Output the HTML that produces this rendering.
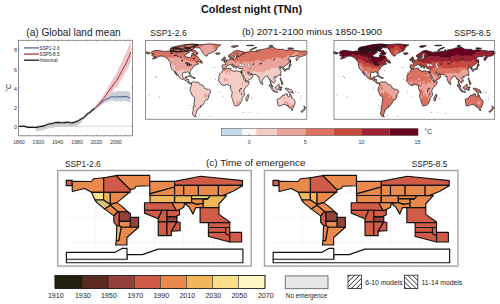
<!DOCTYPE html><html><head><meta charset="utf-8"><style>html,body{margin:0;padding:0;background:#fff;width:500px;height:304px;overflow:hidden}svg{display:block}text{font-family:"Liberation Sans",sans-serif}</style></head><body>
<svg width="500" height="304" viewBox="0 0 500 304">
<text x="251.5" y="13.4" font-size="10.9" font-weight="bold" text-anchor="middle" fill="#111">Coldest night (TNn)</text>
<text x="73.5" y="35.5" font-size="10.1" text-anchor="middle" fill="#222">(a) Global land mean</text>
<line x1="18.5" y1="126.3" x2="132.5" y2="126.3" stroke="#c8c8c8" stroke-width="0.7"/>
<polygon points="18.5,125.55 19.45,125.65 20.4,125.7 21.35,125.45 22.3,125.53 23.25,125.32 24.2,125.45 25.12,126.12 26.05,125.74 26.97,125.97 27.9,126.84 28.84,126.37 29.77,126.52 30.71,126.45 31.65,126.6 32.59,126.35 33.52,126.43 34.46,126.75 35.4,126.4 36.32,126.41 37.25,126.42 38.17,125.01 39.1,125.47 40.02,124.96 40.95,125.02 41.88,124.64 42.8,124.89 43.8,124.02 44.8,124 45.8,123.57 46.8,123.18 47.8,122.89 48.83,122.17 49.87,122.61 50.9,121.92 51.93,122.27 52.97,122.1 54,121.56 54.92,120.99 55.85,120.91 56.78,121.45 57.7,120.53 58.7,120.99 59.7,120.81 60.7,121.17 61.7,121.14 62.7,121.24 63.68,121.22 64.66,121.17 65.64,120.83 66.62,120.75 67.6,120.4 68.52,120.93 69.45,121.3 70.38,121.07 71.3,121.29 72.3,121.35 73.3,121.23 74.3,120.66 75.3,120.13 76.3,120.31 77.22,119.67 78.15,119.47 79.08,118.62 80,118.37 81.2,117.38 82.4,117.46 83.6,116.81 84.54,115.09 85.48,114.6 86.42,113.56 87.36,112.61 88.3,111.96 89.35,111.57 90.4,110.54 91.45,109.54 92.5,108.87 93.55,107.76 94.6,107.31 94.6,110.41 93.55,110.87 92.5,112.02 91.45,112.49 90.4,113.86 89.35,114.56 88.3,114.73 87.36,115.8 86.42,116.76 85.48,117.73 84.54,118.26 83.6,119.4 82.4,120.46 81.2,122.88 80,123.79 79.08,124.52 78.15,125.29 77.22,125.18 76.3,125.9 75.3,126.09 74.3,126.49 73.3,126.82 72.3,127.21 71.3,126.83 70.38,126.74 69.45,126.7 68.52,126.35 67.6,126.33 66.62,126.23 65.64,126.65 64.66,126.56 63.68,126.67 62.7,127.15 61.7,126.7 60.7,126.69 59.7,126.76 58.7,126.9 57.7,126.61 56.78,126.89 55.85,126.97 54.92,127.13 54,127.19 52.97,127.69 51.93,127.83 50.9,127.85 49.87,128.04 48.83,127.92 47.8,128.59 46.8,128.98 45.8,129.28 44.8,129.57 43.8,129.85 42.8,130.56 41.88,130.3 40.95,130.62 40.02,130.65 39.1,130.98 38.17,130.77 37.25,131.23 36.32,131.59 35.4,128.27 34.46,128.33 33.52,128.44 32.59,127.81 31.65,128.11 30.71,128.23 29.77,128.15 28.84,128.28 27.9,128.46 26.97,127.61 26.05,127.68 25.12,127.83 24.2,126.78 23.25,126.88 22.3,127.17 21.35,127.42 20.4,127.11 19.45,127.09 18.5,126.9" fill="#cdcdcd"/>
<polygon points="94.6,107.1 95.57,106.11 96.55,105.14 97.53,104.26 98.5,102.61 99.47,102.01 100.45,101.01 101.43,99.54 102.4,99.08 103.6,97.71 104.8,96.27 106,95.45 107.05,95.44 108.1,94.16 109.15,94.1 110.2,92.69 111.33,92.15 112.47,92.11 113.6,91.89 114.51,91.66 115.43,91.39 116.34,91.23 117.26,91.26 118.17,91.18 119.09,90.75 120,90.73 121,91.44 122,91.34 123,91.01 124,90.93 125,90.75 126,90.64 127,90.95 128.13,91.58 129.27,91.73 130.4,92.52 130.4,102.9 129.27,101.89 128.13,101.83 127,101.39 126,100.82 125,100.87 124,101.27 123,101.09 122,101.35 121,101.61 120,101.27 119.09,100.86 118.17,101.43 117.26,101.19 116.34,101.69 115.43,101.24 114.51,101.2 113.6,101 112.47,100.61 111.33,100.71 110.2,100.53 109.15,101.2 108.1,101.49 107.05,102.2 106,102.03 104.8,102.69 103.6,103.52 102.4,104.34 101.43,104.74 100.45,105.8 99.47,106.41 98.5,106.7 97.53,108.05 96.55,108.24 95.57,108.91 94.6,110.07" fill="#c8cfd9"/>
<polygon points="94.6,106.95 95.9,105.46 97.2,103.83 98.5,101.3 99.8,99.88 101.1,98.52 102.4,96.58 103.52,95.06 104.64,93.53 105.76,91.08 106.88,89.36 108,87.11 109.12,85.62 110.25,83.28 111.38,81.59 112.5,79.55 113.62,76.98 114.75,76.02 115.88,73.42 117,72.72 118.1,69.91 119.2,66.9 120.3,65.46 121.4,62.95 122.5,60.93 123.67,57.51 124.83,54.78 126,53.44 127,50.19 128,48.13 129,45.64 130.8,40.48 130.8,60.94 129,66.26 128,67.95 127,69.49 126,71.47 124.83,73.24 123.67,75.7 122.5,77.68 121.4,79.24 120.3,81.52 119.2,82.32 118.1,84.9 117,86.99 115.88,87.42 114.75,88.23 113.62,89.9 112.5,91.58 111.38,92.95 110.25,94.09 109.12,95.54 108,97.04 106.88,97.99 105.76,99.98 104.64,100.88 103.52,101.91 102.4,103.6 101.1,104.94 99.8,105.94 98.5,106.95 97.2,108.11 95.9,109.74 94.6,111.14" fill="#edc6ca"/>
<polyline points="18.5,126.15 19.45,126.32 20.4,126.23 21.35,126.36 22.3,126.37 23.25,126.06 24.2,126.03 25.12,126.71 26.05,126.62 26.97,126.83 27.9,127.48 28.84,127.2 29.77,127.41 30.71,127.22 31.65,127.33 32.59,127.07 33.52,127.35 34.46,127.49 35.4,127.31 36.32,127.31 37.25,127.15 38.17,126.68 39.1,126.94 40.02,126.73 40.95,126.44 41.88,126.16 42.8,126.5 43.8,125.86 44.8,125.58 45.8,125.25 46.8,124.74 47.8,124.44 48.83,123.97 49.87,124.04 50.9,123.67 51.93,123.78 52.97,123.58 54,122.97 54.92,122.8 55.85,122.64 56.78,122.86 57.7,122.36 58.7,122.57 59.7,122.49 60.7,122.7 61.7,122.74 62.7,122.82 63.68,122.77 64.66,122.59 65.64,122.59 66.62,122.28 67.6,122.24 68.52,122.42 69.45,122.72 70.38,122.77 71.3,122.71 72.3,122.86 73.3,122.68 74.3,122.41 75.3,121.98 76.3,121.82 77.22,121.09 78.15,120.99 79.08,120.39 80,119.78 81.2,118.89 82.4,118.56 83.6,117.87 84.54,116.51 85.48,116.05 86.42,114.97 87.36,113.96 88.3,113.18 89.35,112.67 90.4,111.94 91.45,110.69 92.5,110.23 93.55,109.13 94.6,108.6" fill="none" stroke="#111" stroke-width="1.15" stroke-linejoin="round"/>
<polyline points="94.6,108.57 95.57,107.61 96.55,106.55 97.53,106.16 98.5,104.65 99.47,104.2 100.45,103.68 101.43,102.31 102.4,101.84 103.6,101.05 104.8,99.81 106,99.22 107.05,98.97 108.1,98.32 109.15,98.03 110.2,97.16 111.33,97.02 112.47,96.73 113.6,96.8 114.51,97.11 115.43,96.89 116.34,97.03 117.26,96.78 118.17,97.04 119.09,96.61 120,96.75 121,97.01 122,97.03 123,96.8 124,96.55 125,96.67 126,96.61 127,96.65 128.13,97.45 129.27,97.46 130.4,98.1" fill="none" stroke="#2d4b7c" stroke-width="0.9" stroke-linejoin="round"/>
<polyline points="94.6,108.67 95.9,107.31 97.2,105.91 98.5,104.57 99.8,103.08 101.1,101.82 102.4,99.92 103.52,98.6 104.64,97.31 105.76,95.55 106.88,94.12 108,92.07 109.12,90.71 110.25,89 111.38,87.6 112.5,86.04 113.62,84.21 114.75,82.83 115.88,81.37 117,80.25 118.1,78.16 119.2,75.8 120.3,74.18 121.4,71.78 122.5,70.07 123.67,67.61 124.83,65.37 126,63.72 127,61.16 128,59 129,57.29 130.8,52.2" fill="none" stroke="#a51d33" stroke-width="0.95" stroke-linejoin="round"/>
<rect x="18.5" y="40.3" width="114" height="95.5" fill="none" stroke="#7a7a7a" stroke-width="0.85"/>
<path d="M28.6,40.3v1.3M28.6,135.8v-1.3M38.3,40.3v1.3M38.3,135.8v-1.3M48,40.3v1.3M48,135.8v-1.3M57.7,40.3v1.3M57.7,135.8v-1.3M67.4,40.3v1.3M67.4,135.8v-1.3M77.1,40.3v1.3M77.1,135.8v-1.3M86.8,40.3v1.3M86.8,135.8v-1.3M96.5,40.3v1.3M96.5,135.8v-1.3M106.2,40.3v1.3M106.2,135.8v-1.3M115.9,40.3v1.3M115.9,135.8v-1.3M125.6,40.3v1.3M125.6,135.8v-1.3M18.5,126.3h1.3M132.5,126.3h-1.3M18.5,107.06h1.3M132.5,107.06h-1.3M18.5,87.82h1.3M132.5,87.82h-1.3M18.5,68.58h1.3M132.5,68.58h-1.3M18.5,49.34h1.3M132.5,49.34h-1.3" stroke="#777" stroke-width="0.6" fill="none"/>
<text x="18.9" y="143.6" font-size="5.2" text-anchor="middle" fill="#333">1860</text>
<text x="38.3" y="143.6" font-size="5.2" text-anchor="middle" fill="#333">1900</text>
<text x="57.7" y="143.6" font-size="5.2" text-anchor="middle" fill="#333">1940</text>
<text x="77.1" y="143.6" font-size="5.2" text-anchor="middle" fill="#333">1980</text>
<text x="96.5" y="143.6" font-size="5.2" text-anchor="middle" fill="#333">2020</text>
<text x="115.9" y="143.6" font-size="5.2" text-anchor="middle" fill="#333">2060</text>
<text x="17" y="129.4" font-size="5.4" text-anchor="end" fill="#333">0</text>
<text x="17" y="110.16" font-size="5.4" text-anchor="end" fill="#333">2</text>
<text x="17" y="90.92" font-size="5.4" text-anchor="end" fill="#333">4</text>
<text x="17" y="71.68" font-size="5.4" text-anchor="end" fill="#333">6</text>
<text x="17" y="52.44" font-size="5.4" text-anchor="end" fill="#333">8</text>
<text transform="translate(10.8,87.9) rotate(-90)" font-size="7" text-anchor="middle" fill="#333">°C</text>
<line x1="24" y1="47.9" x2="39" y2="47.9" stroke="#4b6a9a" stroke-width="1.3"/>
<text x="39.6" y="49.85" font-size="5.6" fill="#222" textLength="20" lengthAdjust="spacingAndGlyphs">SSP1-2.6</text>
<line x1="24" y1="54.05" x2="39" y2="54.05" stroke="#b53447" stroke-width="1.3"/>
<text x="39.6" y="56" font-size="5.6" fill="#222" textLength="20" lengthAdjust="spacingAndGlyphs">SSP5-8.5</text>
<line x1="24" y1="60.2" x2="39" y2="60.2" stroke="#1a1a1a" stroke-width="1.3"/>
<text x="39.6" y="62.15" font-size="5.6" fill="#222" textLength="18" lengthAdjust="spacingAndGlyphs">historical</text>
<clipPath id="land0"><path d="M150.88,53.36 151.78,51.79 153.13,51 156.04,50.32 158.06,50.58 161.2,51 163,51.16 165.24,51.52 167.93,51 170.17,51.26 173.76,51.79 176.9,52.05 179.59,51.79 182.29,52.16 183.63,51.79 184.08,50.21 186.32,51.52 188.12,51.26 189.46,52.58 187.67,53.1 186.77,54.15 184.08,55.73 184.98,56.51 186.77,57.04 188.57,57.3 190.36,57.56 191.26,57.04 191.71,55.99 191.26,55.04 193.5,55.2 194.85,55.73 197.09,56.09 198.44,57.83 199.11,58.88 200.68,60.45 201.13,60.71 199.33,61.5 196.64,61.5 197.45,62.29 197.09,63.08 198.88,63.86 196.64,64.65 194.85,64.91 194.85,65.96 193.05,66.49 192.38,67.54 192.16,69.11 191.26,69.9 189.91,71.21 190.14,73.05 190.36,74.36 189.69,74.21 189.15,73.05 188.57,72 186.77,71.84 186.1,72.53 184.08,72.16 182.6,73.31 182.42,75.15 182.6,76.46 183.18,77.78 183.86,78.19 185.43,77.93 185.65,76.72 187.22,76.46 186.77,78.04 186.55,79.35 188.57,79.4 188.88,80.4 188.7,81.97 189.46,83.03 190.59,82.76 191.53,83.18 191.26,83.81 190.14,83.92 189.02,83.39 187.76,82.5 187,80.93 185.2,80.4 183.86,79.35 182.73,79.46 180.94,78.72 178.92,77.25 178.92,75.94 177.58,74.36 176.01,72.53 174.79,71.11 175.56,72.53 176.23,74.1 177.13,75.68 176.01,74.62 174.88,73.05 173.99,71.21 173.67,70.58 172.19,69.64 171.3,68.06 170.62,66.59 170.4,65.17 170.62,63.34 170.31,62.34 169.28,61.24 167.93,59.4 166.58,57.83 165.01,57.04 163.44,56.36 161.2,56.09 159.86,56.25 158.29,56.67 157.16,57.83 155.15,58.35 153.57,58.88 152.45,59.14 154.02,57.04 155.82,56.93 153.57,56.3 152.23,55.99 151.78,55.2 152.45,54.57 154.02,53.99 151.78,53.84Z"/><path d="M170.17,51.26 176.9,51.79 183.63,51.52 186.77,51.26 189.46,50.74 192.16,49.69 194.85,47.85 191.26,46.8 194.85,45.49 198.44,44.59 192.6,44.07 183.63,44.7 176.9,46.27 171.52,47.33 170.17,48.9Z"/><path d="M193.5,46.7 196.64,45.49 199.33,44.7 203.82,44.44 208.31,43.91 212.79,44.02 217.28,44.7 220.87,44.96 218.18,46.27 217.28,47.85 216.38,49.69 215.48,51 212.79,51.95 210.55,53.1 208.31,53.62 206.96,56.25 205.17,55.73 203.82,54.15 202.47,52.84 202.03,51 201.13,49.69 199.33,47.95 196.64,47.85Z"/><path d="M190.36,49.06 193.5,50.21 195.74,50.74 196.64,52.58 198.44,52.84 197.09,53.89 197.31,54.67 194.85,54.94 193.95,54.41 191.71,53.89 193.05,53.36 193.73,52.31 192.38,51.52 190.36,51 188.12,51 186.32,50.21 187.67,49.01Z"/><path d="M173.31,50.21 175.56,49.42 178.7,49.27 180.72,50.74 179.59,51.63 176.01,51.68 173.54,51.26Z"/><path d="M184.98,47.33 190.36,47.69 192.16,46.54 194.85,46.01 198.44,44.7 192.6,44.17 186.77,44.7 184.98,45.75Z"/><path d="M170.17,50.05 172.42,48.64 174.21,49.16 172.87,50.48 171.07,50.48Z"/><path d="M184.98,47.69 190.36,47.59 190.36,48.59 184.98,48.59Z"/><path d="M173.76,47.74 178.7,47.74 179.59,48.38 173.31,48.38Z"/><path d="M179.59,48.9 182.29,48.9 183.18,49.95 180.94,50.21Z"/><path d="M215.48,53.36 216.38,52.89 219.52,52.84 220.19,53.62 217.95,54.47 216.16,54.26Z"/><path d="M199.65,62.76 201.35,60.66 202.47,62.55 202.56,63.23 201.13,62.81Z"/><path d="M188.12,76.25 190.36,75.57 192.96,77.15 191.48,77.3 189.46,75.94Z"/><path d="M192.87,78.04 193.95,77.25 195.56,78.04 194.4,78.51 192.87,78.14Z"/><path d="M191.53,83.18 192.38,82.13 193.73,81.56 194.26,81.97 195.74,82.24 197.54,82.13 198.53,82.24 199.02,83.29 200.45,84.6 202.03,84.71 203.15,85.55 203.82,86.81 204.49,88.28 206.29,89.06 208.31,89.22 210.41,90.53 210.64,91.69 210.32,92.74 208.98,94.58 208.75,96.94 208.08,98.51 207.41,99.83 206.29,99.93 204.49,101.4 204.36,102.71 203.37,104.03 202.47,105.44 201.13,106.07 200.1,105.6 200.68,106.91 200.45,107.7 198.44,108.23 198.35,109.28 197.09,109.8 196.87,111.38 195.97,112.16 196.64,112.95 195.61,114 195.3,115.05 195.52,115.84 196.42,116.62 194.85,116.62 193.05,115.31 192.38,113.21 193.05,111.38 193.28,109.28 193.19,107.17 194.17,104.55 194.22,102.45 194.62,100.09 194.76,97.46 194.17,96.78 192.38,95.78 191.71,94.05 190.59,91.69 189.82,90.64 190.36,89.33 190.14,88.28 190.45,87.22 190.99,86.81 191.48,85.65 191.48,84.34 191.3,83.97Z"/><path d="M223.6,68.95 225.35,69.32 227.6,68.43 230.83,68.22 231.18,69.11 230.74,69.9 231.41,70.42 233.07,70.79 235,71.74 235.22,70.95 236.57,70.64 239.26,71.53 240.74,71.32 241.59,71.32 241.73,72.26 241.28,73.05 240.87,72.05 241.28,73.47 242.18,75.15 242.94,76.72 243.52,78.3 243.97,79.61 244.87,80.66 245.67,81.19 246.21,82.29 249.22,81.56 249.13,82.29 248.46,84.6 247.33,85.75 245.54,87.75 244.87,88.69 243.97,90.27 243.66,91.16 243.97,91.95 244.42,93.26 244.42,95.62 242.85,96.94 241.95,98.25 242.18,100.35 240.96,101.4 240.83,102.71 239.93,104.03 238.59,105.34 237.69,105.6 236.12,105.7 235.22,106.02 234.55,105.7 234.32,104.55 233.65,102.71 233.07,101.93 232.75,99.56 232.08,98.25 231.54,96.68 231.77,94.84 232.17,92.47 231.72,90.9 231.63,90.38 230.29,88.54 230.51,87.22 230.65,85.91 230.06,85.39 228.94,85.49 228.27,84.44 226.92,84.55 225.35,85.23 222.89,85.44 222.21,84.97 221.09,84.18 220.28,83.24 219.52,82.08 218.71,81.19 218.4,80.03 218.85,79.19 219.07,77.51 218.62,76.72 219.52,75.15 219.75,74.1 220.42,73.26 221.76,72.26 221.85,71.21 223.11,70.06Z"/><path d="M248.37,94.05 248.9,95.89 248.46,96.94 247.33,100.88 246.44,101.14 245.76,99.3 246.12,97.2 247.11,96.05 247.78,94.84Z"/><path d="M223.74,68.85 223.33,68.38 222.21,68.33 222.3,66.75 222.08,65.17 222.66,64.81 224.46,64.91 225.58,64.97 225.71,63.6 225.13,62.92 224.23,62.34 225.58,62.18 226.34,61.76 226.97,61.03 227.82,60.71 228.49,59.92 229.84,59.66 230.11,58.61 229.93,57.93 230.74,57.56 230.96,58.88 231.86,59.14 232.53,59.4 234.55,59.09 235.67,58.61 235.67,57.83 236.79,57.72 236.34,56.78 238.81,56.51 239.48,56.25 237.91,56.04 236.34,56.25 235.9,55.46 237.47,53.62 237.56,53.2 236.12,53.26 234.19,54.94 233.88,55.73 234.77,56.36 233.65,57.83 233.43,58.25 232.08,58.67 231.86,58.09 231.54,57.3 231.01,56.67 229.84,57.3 228.72,56.88 228.49,55.2 229.84,54.41 231.63,53.36 232.75,52.16 234.32,51.26 236.57,50.58 238.81,50.48 240.16,51 241.05,51.37 242.4,51.52 244.64,52.31 244.19,53.1 241.95,53.89 242.85,54.26 244.64,52.84 245.99,52.94 245.9,51.79 247.11,52.05 250.03,51.79 252.27,51.58 253.17,51.26 255.86,51.52 256.98,51.89 256.22,50.58 257.2,49.53 259,51.52 259.45,49.69 262.14,49.69 263.04,49.16 265.28,48.9 267.52,47.95 271.11,47.59 273.04,46.96 276.49,49.06 276.94,49.16 280.08,49.42 283.22,49.16 284.35,50.21 286.81,50.16 289.06,49.69 291.75,49.79 293.99,50.21 296.23,50.48 298.03,50.74 300.27,51.16 302.51,51 305.21,51.11 307,51.63 307,53.62 306.33,53.89 305.65,54.94 303.86,55.73 302.51,56.25 299.37,56.36 299.37,57.3 298.93,58.35 296.5,60.98 296.23,60.19 296.01,58.35 296.46,57.56 298.03,55.46 296.23,55.41 294.44,56.67 290.4,56.56 289.28,57.56 287.93,59.4 289.5,60.19 289.28,61.5 289.06,62.55 287.93,63.86 285.92,65.33 284.88,65.54 284.35,66.49 283.9,67.54 284.3,68.85 284.12,69.38 283,69.74 282.77,68.33 282.33,67.01 280.62,67.38 281.12,66.49 280.53,66.28 279.19,67.17 278.96,67.54 279.63,68.22 281.2,68.12 279.86,69.38 280.44,70.79 280.94,71.47 280.76,73.05 279.86,74.36 278.51,75.68 277.17,76.04 275.82,76.62 275.51,76.46 274.7,76.46 274.03,77.25 273.71,77.78 274.12,78.72 275.06,79.72 275.28,81.45 274.48,82.24 273.35,83.18 273.26,82.24 272.46,81.97 271.51,81.08 271.11,80.66 270.75,82.24 271.25,83.29 271.78,84.86 272.68,85.65 273,87.07 272.68,87.07 271.78,86.28 271.25,84.86 270.44,83.55 270.35,81.97 270.08,79.09 268.64,79.19 268.55,77.93 267.66,76.88 267.43,75.94 266.85,76.2 265.95,76.36 265.28,76.46 264.38,77.51 263.17,78.98 262.23,80.66 262.05,82.34 261.02,83.5 260.48,82.5 259.81,80.93 259.13,78.83 258.91,76.72 258.77,76.04 257.74,76.78 257.11,75.89 256.53,75.15 256.08,74.41 253.88,74.52 251.96,74.21 251.51,73.47 250.47,73.78 249.35,73.16 248.68,72 247.78,72 248.01,72.94 248.73,73.84 249.35,74.89 250.7,75.05 251.51,73.94 251.55,74.89 252.58,75.41 253.08,75.99 252.18,77.78 250.92,78.83 249.58,79.46 248.1,80.4 246.44,81.03 245.67,81.08 245.45,79.88 245.32,79.09 244.19,77.09 243.75,76.2 242.85,74.36 241.95,73.05 241.91,72.26 241.59,71.32 241.95,70.53 242.36,69.22 242.49,68.53 240.96,68.8 239.93,68.69 238.81,68.43 238.14,67.54 238,66.75 237.91,66.33 237.02,66.38 236.48,66.59 236.79,67.8 236.12,68.59 235.76,67.91 235.22,67.01 234.95,65.81 233.43,64.91 232.4,64.02 231.77,63.97 232.31,64.86 233.43,65.75 234.55,66.64 234.24,66.86 233.65,67.54 233.29,67.8 233.25,66.75 231.63,65.7 230.87,64.86 230.2,64.44 229.17,65.12 227.69,65.07 227.6,65.81 226.47,66.49 226.12,67.12 226.34,67.43 225.89,68.01 225.26,68.48 224.23,68.53Z"/><path d="M145.5,51.63 148.19,52.31 149.54,52.68 150.12,53.1 148.86,53.89 147.29,53.78 146.17,53.36 145.5,53.62Z"/><path d="M223.69,61.5 224.9,61.19 226.88,60.87 227.01,60.08 226.25,59.66 225.58,58.88 225.35,58.35 225.44,57.51 224.68,56.98 224.01,56.98 223.47,57.93 223.78,58.61 224.1,58.98 224.9,59.4 224.1,59.92 224.32,60.29 223.87,60.61 224.9,60.82Z"/><path d="M223.56,60.34 223.47,59.4 223.78,59.09 222.98,58.72 221.76,59.3 221.81,60.45 222.66,60.66Z"/><path d="M284.97,69.9 285.92,69.64 287.04,69.64 287.62,69.64 288.97,69.38 289.41,68.85 289.5,67.64 289.95,67.01 289.68,66.02 289.06,66.49 288.97,67.28 288.38,67.91 287.62,68.22 287.04,69.06 285.92,69.11 285.24,69.53Z"/><path d="M289.06,65.96 289.82,65.44 290.54,65.7 291.52,65.02 291.07,64.65 289.82,63.92 289.73,64.91 289.06,65.17Z"/><path d="M284.48,70.16 285.02,69.95 285.47,70.42 285.02,71.47 284.66,71.37Z"/><path d="M289.95,63.6 290.63,63.18 290.4,61.76 291.07,62.03 290.49,60.56 290.31,59.24 290.04,59.4 289.86,60.45 289.95,62.03 289.91,63.28Z"/><path d="M280.17,75.68 280.53,74.52 280.98,74.62 280.53,76.2Z"/><path d="M275.01,77.67 275.82,77.2 276.05,77.46 275.51,78.19Z"/><path d="M280.08,78.04 281.12,78.04 280.98,79.19 280.98,80.4 281.88,80.93 281.65,81.14 280.53,80.4 280.31,79.88Z"/><path d="M280.98,84.08 282.55,82.61 283,84.08 282.55,84.71 281.88,84.44Z"/><path d="M280.98,81.56 281.88,81.71 282.77,81.97 282.1,82.61 281.2,82.76Z"/><path d="M275.15,86.96 276.05,86.81 276.94,86.07 278.06,85.02 278.74,84.08 279.72,85.02 279.19,85.65 278.96,87.22 279.55,87.22 278.51,88.38 278.29,89.59 277.62,89.85 276.27,89.33 275.69,88.54 275.15,87.75Z"/><path d="M269,84.81 269.99,85.02 271.25,86.7 272.77,88.28 273.8,89.43 273.71,90.8 273.13,90.85 272.01,89.85 271.25,88.28 270.48,86.81 269.09,85.65Z"/><path d="M273.44,91.32 273.8,90.9 274.92,91.11 276.05,91.16 276.81,91.37 277.62,91.84 277.62,92.32 276.05,92.06 274.7,91.84 273.58,91.43Z"/><path d="M279.86,90.64 279.63,89.33 279.99,87.75 280.31,87.22 282.33,86.96 280.53,87.54 281.56,88.28 280.67,88.75 281.56,89.96 280.98,90.27 280.26,89.27 280.26,90.64Z"/><path d="M285.02,88.43 286.36,88.17 287.93,88.54 289.5,89.12 291.52,90.01 292.64,90.9 292.42,91.95 293.54,93.16 291.97,92.47 290.85,91.79 290.18,92.63 289.5,92.47 288.16,92.11 288.07,90.53 286.81,90.06 285.69,89.59 285.47,89.06Z"/><path d="M277.17,99.3 277.39,101.4 277.84,103.24 278.06,105.44 278.96,106.12 280.08,105.6 281.65,105.5 282.77,104.71 285.02,104.29 286.36,104.97 287.17,106.02 288.07,105.08 287.93,106.39 288.83,106.65 289.06,107.7 290.63,108.12 291.88,108.28 292.78,107.59 293.54,107.39 294.12,105.39 294.89,104.03 295.11,102.45 294.89,100.88 293.9,99.62 293.09,98.51 291.88,97.72 291.52,95.62 290.63,95.1 290.18,93.42 289.77,94.58 289.73,96.68 289.28,96.99 288.61,96.68 287.26,95.89 287.62,94.21 286.81,94.05 285.69,93.68 284.93,94.21 284.35,95.62 283.58,95.21 282.77,95.1 282.1,96.36 281.2,96.68 280.76,97.88 279.41,98.41 278.51,98.62 277.62,99.19Z"/><path d="M291.16,109.12 292.78,109.22 292.64,110.33 291.97,110.64 291.3,109.8Z"/><path d="M303.73,105.81 304.76,106.91 306.33,107.54 305.65,108.33 304.76,109.54 304.58,108.65 304.22,108.33 304.53,107.17Z"/><path d="M303.73,109.01 304.44,109.64 303.86,110.59 302.96,111.64 302.07,112.22 300.94,111.9 301.75,110.85 302.96,109.8Z"/><path d="M262.05,82.61 262.95,83.81 262.68,84.5 262.14,84.6 262,83.44Z"/><path d="M231.18,46.54 233.43,45.75 238.36,45.64 236.12,46.8 233.88,47.59Z"/><path d="M249.58,50.48 251.37,49.16 253.17,48.11 256.76,47.33 255.41,48.11 252.27,49.42 250.92,50.63Z"/><path d="M268.87,46.01 271.11,45.23 272.91,46.01 270.66,46.7Z"/><path d="M287.71,48.11 290.4,47.85 293.54,48.38 289.06,49.01Z"/><path d="M246.44,45.49 250.92,45.12 254.06,45.49 249.58,45.86Z"/></clipPath>
<g clip-path="url(#land0)">
<path d="M171.3,64.12H173.79V65.74H171.3ZM171.3,65.44H173.79V67.05H171.3ZM170.17,66.75H174.91V68.36H170.17ZM274.48,66.75H275.85V68.36H274.48ZM161.2,68.06H163.69V69.67H161.2ZM170.17,68.06H174.91V69.67H170.17ZM269.99,68.06H279.21V69.67H269.99ZM161.2,69.38H163.69V70.99H161.2ZM169.05,69.38H176.03V70.99H169.05ZM180.27,69.38H185V70.99H180.27ZM185.88,69.38H188.37V70.99H185.88ZM189.24,69.38H190.61V70.99H189.24ZM231.86,69.38H236.59V70.99H231.86ZM266.62,69.38H269.12V70.99H266.62ZM269.99,69.38H281.45V70.99H269.99ZM285.69,69.38H288.18V70.99H285.69ZM146.62,70.69H152.48V72.3H146.62ZM161.2,70.69H162.57V72.3H161.2ZM164.57,70.69H165.94V72.3H164.57ZM166.81,70.69H185V72.3H166.81ZM185.88,70.69H191.73V72.3H185.88ZM221.76,70.69H223.14V72.3H221.76ZM225.13,70.69H226.5V72.3H225.13ZM230.74,70.69H239.96V72.3H230.74ZM253.17,70.69H255.66V72.3H253.17ZM257.65,70.69H259.02V72.3H257.65ZM264.38,70.69H291.55V72.3H264.38ZM295.78,70.69H299.4V72.3H295.78ZM145.5,72H155.84V73.61H145.5ZM156.72,72H162.57V73.61H156.72ZM163.44,72H165.94V73.61H163.44ZM166.81,72H200.7V73.61H166.81ZM204.94,72H207.43V73.61H204.94ZM209.43,72H210.8V73.61H209.43ZM215.03,72H225.38V73.61H215.03ZM227.37,72H229.86V73.61H227.37ZM230.74,72H245.57V73.61H230.74ZM250.92,72H302.76V73.61H250.92ZM305.88,72H307.25V73.61H305.88ZM145.5,73.31H226.5V74.92H145.5ZM227.37,73.31H229.86V74.92H227.37ZM230.74,73.31H245.57V74.92H230.74ZM249.8,73.31H307.25V74.92H249.8ZM145.5,74.62H307.25V76.24H145.5ZM145.5,75.94H307.25V77.55H145.5ZM145.5,77.25H224.26V78.86H145.5ZM225.13,77.25H307.25V78.86H225.13ZM145.5,78.56H224.26V80.17H145.5ZM228.49,78.56H307.25V80.17H228.49ZM145.5,79.88H224.26V81.49H145.5ZM227.37,79.88H307.25V81.49H227.37ZM145.5,81.19H242.2V82.8H145.5ZM243.07,81.19H307.25V82.8H243.07ZM145.5,82.5H242.2V84.11H145.5ZM243.07,82.5H307.25V84.11H243.07ZM145.5,83.81H242.2V85.42H145.5ZM243.07,83.81H307.25V85.42H243.07ZM145.5,85.12H307.25V86.74H145.5ZM145.5,86.44H307.25V88.05H145.5ZM145.5,87.75H307.25V89.36H145.5ZM145.5,89.06H307.25V90.67H145.5ZM145.5,90.38H307.25V91.99H145.5ZM145.5,91.69H307.25V93.3H145.5ZM145.5,93H205.19V94.61H145.5ZM206.06,93H307.25V94.61H206.06ZM145.5,94.31H204.07V95.92H145.5ZM207.18,94.31H307.25V95.92H207.18ZM145.5,95.62H204.07V97.24H145.5ZM209.43,95.62H307.25V97.24H209.43ZM145.5,96.94H181.64V98.55H145.5ZM182.51,96.94H205.19V98.55H182.51ZM206.06,96.94H209.68V98.55H206.06ZM210.55,96.94H283.7V98.55H210.55ZM284.57,96.94H290.43V98.55H284.57ZM291.3,96.94H307.25V98.55H291.3ZM145.5,98.25H283.7V99.86H145.5ZM284.57,98.25H296.03V99.86H284.57ZM296.91,98.25H307.25V99.86H296.91ZM145.5,99.56H298.28V101.17H145.5ZM300.27,99.56H307.25V101.17H300.27ZM145.5,100.88H153.6V102.49H145.5ZM154.47,100.88H181.64V102.49H154.47ZM182.51,100.88H236.59V102.49H182.51ZM239.71,100.88H265.75V102.49H239.71ZM267.75,100.88H283.7V102.49H267.75ZM284.57,100.88H285.94V102.49H284.57ZM287.93,100.88H298.28V102.49H287.93ZM299.15,100.88H307.25V102.49H299.15ZM145.5,102.19H153.6V103.8H145.5ZM154.47,102.19H180.52V103.8H154.47ZM182.51,102.19H217.53V103.8H182.51ZM219.52,102.19H236.59V103.8H219.52ZM239.71,102.19H250.05V103.8H239.71ZM252.05,102.19H264.63V103.8H252.05ZM267.75,102.19H273.6V103.8H267.75ZM274.48,102.19H283.7V103.8H274.48ZM287.93,102.19H294.91V103.8H287.93ZM295.78,102.19H297.16V103.8H295.78ZM299.15,102.19H307.25V103.8H299.15ZM146.62,103.5H180.52V105.11H146.62ZM181.39,103.5H210.8V105.11H181.39ZM211.67,103.5H220.89V105.11H211.67ZM221.76,103.5H236.59V105.11H221.76ZM239.71,103.5H243.32V105.11H239.71ZM245.32,103.5H252.3V105.11H245.32ZM253.17,103.5H261.27V105.11H253.17ZM266.62,103.5H272.48V105.11H266.62ZM274.48,103.5H284.82V105.11H274.48ZM289.06,103.5H292.67V105.11H289.06ZM295.78,103.5H297.16V105.11H295.78ZM299.15,103.5H307.25V105.11H299.15ZM152.23,104.81H161.45V106.42H152.23ZM162.32,104.81H164.82V106.42H162.32ZM165.69,104.81H189.49V106.42H165.69ZM190.36,104.81H193.98V106.42H190.36ZM195.97,104.81H200.7V106.42H195.97ZM203.82,104.81H207.43V106.42H203.82ZM212.79,104.81H216.41V106.42H212.79ZM224.01,104.81H226.5V106.42H224.01ZM227.37,104.81H237.72V106.42H227.37ZM240.83,104.81H243.32V106.42H240.83ZM245.32,104.81H252.3V106.42H245.32ZM253.17,104.81H257.9V106.42H253.17ZM259.9,104.81H261.27V106.42H259.9ZM264.38,104.81H272.48V106.42H264.38ZM275.6,104.81H285.94V106.42H275.6ZM296.91,104.81H307.25V106.42H296.91ZM153.35,106.12H160.33V107.74H153.35ZM163.44,106.12H164.82V107.74H163.44ZM166.81,106.12H176.03V107.74H166.81ZM179.15,106.12H189.49V107.74H179.15ZM191.48,106.12H195.1V107.74H191.48ZM195.97,106.12H201.83V107.74H195.97ZM203.82,106.12H205.19V107.74H203.82ZM209.43,106.12H210.8V107.74H209.43ZM212.79,106.12H216.41V107.74H212.79ZM224.01,106.12H225.38V107.74H224.01ZM228.49,106.12H239.96V107.74H228.49ZM241.95,106.12H243.32V107.74H241.95ZM245.32,106.12H246.69V107.74H245.32ZM247.56,106.12H253.42V107.74H247.56ZM254.29,106.12H256.78V107.74H254.29ZM259.9,106.12H261.27V107.74H259.9ZM263.26,106.12H266.88V107.74H263.26ZM268.87,106.12H270.24V107.74H268.87ZM276.72,106.12H288.18V107.74H276.72ZM296.91,106.12H307.25V107.74H296.91ZM146.62,107.44H147.99V109.05H146.62ZM151.11,107.44H152.48V109.05H151.11ZM153.35,107.44H176.03V109.05H153.35ZM178.02,107.44H189.49V109.05H178.02ZM191.48,107.44H206.31V109.05H191.48ZM207.18,107.44H211.92V109.05H207.18ZM213.91,107.44H215.28V109.05H213.91ZM224.01,107.44H225.38V109.05H224.01ZM227.37,107.44H237.72V109.05H227.37ZM243.07,107.44H245.57V109.05H243.07ZM248.68,107.44H250.05V109.05H248.68ZM252.05,107.44H256.78V109.05H252.05ZM259.9,107.44H265.75V109.05H259.9ZM271.11,107.44H287.06V109.05H271.11ZM287.93,107.44H289.31V109.05H287.93ZM296.91,107.44H307.25V109.05H296.91ZM145.5,108.75H149.11V110.36H145.5ZM152.23,108.75H176.03V110.36H152.23ZM178.02,108.75H183.88V110.36H178.02ZM184.75,108.75H200.7V110.36H184.75ZM201.58,108.75H211.92V110.36H201.58ZM224.01,108.75H237.72V110.36H224.01ZM240.83,108.75H245.57V110.36H240.83ZM252.05,108.75H257.9V110.36H252.05ZM258.77,108.75H264.63V110.36H258.77ZM267.75,108.75H281.45V110.36H267.75ZM282.33,108.75H287.06V110.36H282.33ZM287.93,108.75H293.79V110.36H287.93ZM295.78,108.75H307.25V110.36H295.78ZM145.5,110.06H146.87V111.67H145.5ZM147.74,110.06H150.24V111.67H147.74ZM152.23,110.06H169.3V111.67H152.23ZM172.42,110.06H179.4V111.67H172.42ZM180.27,110.06H182.76V111.67H180.27ZM185.88,110.06H188.37V111.67H185.88ZM189.24,110.06H196.22V111.67H189.24ZM198.21,110.06H200.7V111.67H198.21ZM202.7,110.06H211.92V111.67H202.7ZM216.16,110.06H218.65V111.67H216.16ZM225.13,110.06H229.86V111.67H225.13ZM230.74,110.06H237.72V111.67H230.74ZM241.95,110.06H245.57V111.67H241.95ZM252.05,110.06H257.9V111.67H252.05ZM267.75,110.06H272.48V111.67H267.75ZM273.35,110.06H281.45V111.67H273.35ZM284.57,110.06H293.79V111.67H284.57ZM294.66,110.06H302.76V111.67H294.66ZM304.76,110.06H307.25V111.67H304.76ZM145.5,111.38H169.3V112.99H145.5ZM171.3,111.38H182.76V112.99H171.3ZM184.75,111.38H196.22V112.99H184.75ZM198.21,111.38H200.7V112.99H198.21ZM202.7,111.38H213.04V112.99H202.7ZM217.28,111.38H218.65V112.99H217.28ZM219.52,111.38H229.86V112.99H219.52ZM230.74,111.38H237.72V112.99H230.74ZM241.95,111.38H245.57V112.99H241.95ZM252.05,111.38H260.15V112.99H252.05ZM263.26,111.38H264.63V112.99H263.26ZM267.75,111.38H281.45V112.99H267.75ZM284.57,111.38H293.79V112.99H284.57ZM296.91,111.38H301.64V112.99H296.91ZM304.76,111.38H307.25V112.99H304.76ZM145.5,112.69H168.18V114.3H145.5ZM171.3,112.69H174.91V114.3H171.3ZM176.9,112.69H189.49V114.3H176.9ZM190.36,112.69H196.22V114.3H190.36ZM198.21,112.69H200.7V114.3H198.21ZM202.7,112.69H204.07V114.3H202.7ZM204.94,112.69H213.04V114.3H204.94ZM219.52,112.69H239.96V114.3H219.52ZM244.19,112.69H246.69V114.3H244.19ZM250.92,112.69H261.27V114.3H250.92ZM263.26,112.69H270.24V114.3H263.26ZM271.11,112.69H281.45V114.3H271.11ZM284.57,112.69H293.79V114.3H284.57ZM296.91,112.69H299.4V114.3H296.91ZM304.76,112.69H307.25V114.3H304.76ZM145.5,114H146.87V115.61H145.5ZM147.74,114H158.09V115.61H147.74ZM158.96,114H174.91V115.61H158.96ZM176.9,114H189.49V115.61H176.9ZM191.48,114H200.7V115.61H191.48ZM203.82,114H206.31V115.61H203.82ZM221.76,114H225.38V115.61H221.76ZM227.37,114H239.96V115.61H227.37ZM247.56,114H251.17V115.61H247.56ZM252.05,114H265.75V115.61H252.05ZM267.75,114H279.21V115.61H267.75ZM281.2,114H282.58V115.61H281.2ZM285.69,114H290.43V115.61H285.69ZM291.3,114H293.79V115.61H291.3ZM295.78,114H302.76V115.61H295.78ZM145.5,115.31H146.87V116.92H145.5ZM147.74,115.31H156.97V116.92H147.74ZM158.96,115.31H171.55V116.92H158.96ZM172.42,115.31H173.79V116.92H172.42ZM175.78,115.31H189.49V116.92H175.78ZM191.48,115.31H200.7V116.92H191.48ZM203.82,115.31H206.31V116.92H203.82ZM220.64,115.31H225.38V116.92H220.64ZM227.37,115.31H239.96V116.92H227.37ZM247.56,115.31H280.33V116.92H247.56ZM281.2,115.31H282.58V116.92H281.2ZM285.69,115.31H290.43V116.92H285.69ZM292.42,115.31H303.89V116.92H292.42ZM145.5,116.62H168.18V118.24H145.5ZM174.66,116.62H189.49V118.24H174.66ZM191.48,116.62H193.98V118.24H191.48ZM194.85,116.62H200.7V118.24H194.85ZM202.7,116.62H208.56V118.24H202.7ZM219.52,116.62H239.96V118.24H219.52ZM245.32,116.62H246.69V118.24H245.32ZM249.8,116.62H254.54V118.24H249.8ZM255.41,116.62H278.09V118.24H255.41ZM278.96,116.62H280.33V118.24H278.96ZM284.57,116.62H290.43V118.24H284.57ZM291.3,116.62H293.79V118.24H291.3ZM294.66,116.62H306.13V118.24H294.66ZM145.5,117.94H165.94V119.55H145.5ZM174.66,117.94H187.25V119.55H174.66ZM189.24,117.94H196.22V119.55H189.24ZM197.09,117.94H199.58V119.55H197.09ZM204.94,117.94H209.68V119.55H204.94ZM211.67,117.94H215.28V119.55H211.67ZM220.64,117.94H222.01V119.55H220.64ZM225.13,117.94H234.35V119.55H225.13ZM236.34,117.94H241.08V119.55H236.34ZM244.19,117.94H245.57V119.55H244.19ZM247.56,117.94H248.93V119.55H247.56ZM249.8,117.94H253.42V119.55H249.8ZM261.02,117.94H263.51V119.55H261.02ZM264.38,117.94H274.73V119.55H264.38ZM282.33,117.94H288.18V119.55H282.33ZM292.42,117.94H293.79V119.55H292.42ZM295.78,117.94H302.76V119.55H295.78Z" fill="#f5cdc7"/><path d="M208.31,43.12H209.68V44.74H208.31ZM203.82,44.44H213.04V46.05H203.82ZM201.58,45.75H214.16V47.36H201.58ZM200.45,47.06H214.16V48.67H200.45ZM199.33,48.38H215.28V49.99H199.33ZM199.33,49.69H215.28V51.3H199.33ZM199.33,51H216.41V52.61H199.33ZM200.45,52.31H216.41V53.92H200.45ZM294.66,52.31H298.28V53.92H294.66ZM200.45,53.62H217.53V55.24H200.45ZM292.42,53.62H298.28V55.24H292.42ZM199.33,54.94H219.77V56.55H199.33ZM286.81,54.94H289.31V56.55H286.81ZM291.3,54.94H303.89V56.55H291.3ZM146.62,56.25H150.24V57.86H146.62ZM174.66,56.25H178.27V57.86H174.66ZM199.33,56.25H220.89V57.86H199.33ZM285.69,56.25H289.31V57.86H285.69ZM291.3,56.25H305.01V57.86H291.3ZM145.5,57.56H150.24V59.17H145.5ZM163.44,57.56H167.06V59.17H163.44ZM167.93,57.56H183.88V59.17H167.93ZM202.7,57.56H218.65V59.17H202.7ZM272.23,57.56H281.45V59.17H272.23ZM283.45,57.56H306.13V59.17H283.45ZM145.5,58.88H156.97V60.49H145.5ZM161.2,58.88H186.12V60.49H161.2ZM202.7,58.88H227.62V60.49H202.7ZM265.5,58.88H307.25V60.49H265.5ZM145.5,60.19H189.49V61.8H145.5ZM201.58,60.19H233.23V61.8H201.58ZM255.41,60.19H260.15V61.8H255.41ZM264.38,60.19H307.25V61.8H264.38ZM145.5,61.5H195.1V63.11H145.5ZM197.09,61.5H235.47V63.11H197.09ZM236.34,61.5H239.96V63.11H236.34ZM240.83,61.5H242.2V63.11H240.83ZM243.07,61.5H307.25V63.11H243.07ZM145.5,62.81H307.25V64.42H145.5ZM145.5,64.12H171.55V65.74H145.5ZM173.54,64.12H307.25V65.74H173.54ZM145.5,65.44H171.55V67.05H145.5ZM173.54,65.44H307.25V67.05H173.54ZM145.5,66.75H170.42V68.36H145.5ZM174.66,66.75H274.73V68.36H174.66ZM275.6,66.75H307.25V68.36H275.6ZM145.5,68.06H161.45V69.67H145.5ZM163.44,68.06H170.42V69.67H163.44ZM174.66,68.06H270.24V69.67H174.66ZM278.96,68.06H307.25V69.67H278.96ZM145.5,69.38H161.45V70.99H145.5ZM163.44,69.38H169.3V70.99H163.44ZM175.78,69.38H180.52V70.99H175.78ZM184.75,69.38H186.12V70.99H184.75ZM188.12,69.38H189.49V70.99H188.12ZM190.36,69.38H232.11V70.99H190.36ZM236.34,69.38H266.88V70.99H236.34ZM268.87,69.38H270.24V70.99H268.87ZM281.2,69.38H285.94V70.99H281.2ZM287.93,69.38H307.25V70.99H287.93ZM145.5,70.69H146.87V72.3H145.5ZM152.23,70.69H161.45V72.3H152.23ZM162.32,70.69H164.82V72.3H162.32ZM165.69,70.69H167.06V72.3H165.69ZM184.75,70.69H186.12V72.3H184.75ZM191.48,70.69H222.01V72.3H191.48ZM222.89,70.69H225.38V72.3H222.89ZM226.25,70.69H230.99V72.3H226.25ZM239.71,70.69H253.42V72.3H239.71ZM255.41,70.69H257.9V72.3H255.41ZM258.77,70.69H264.63V72.3H258.77ZM291.3,70.69H296.03V72.3H291.3ZM299.15,70.69H307.25V72.3H299.15ZM155.59,72H156.97V73.61H155.59ZM162.32,72H163.69V73.61H162.32ZM165.69,72H167.06V73.61H165.69ZM200.45,72H205.19V73.61H200.45ZM207.18,72H209.68V73.61H207.18ZM210.55,72H215.28V73.61H210.55ZM225.13,72H227.62V73.61H225.13ZM229.61,72H230.99V73.61H229.61ZM245.32,72H251.17V73.61H245.32ZM302.51,72H306.13V73.61H302.51ZM226.25,73.31H227.62V74.92H226.25ZM229.61,73.31H230.99V74.92H229.61ZM245.32,73.31H250.05V74.92H245.32ZM224.01,77.25H225.38V78.86H224.01ZM224.01,78.56H228.74V80.17H224.01ZM224.01,79.88H227.62V81.49H224.01ZM241.95,81.19H243.32V82.8H241.95ZM241.95,82.5H243.32V84.11H241.95ZM241.95,83.81H243.32V85.42H241.95ZM204.94,93H206.31V94.61H204.94ZM203.82,94.31H207.43V95.92H203.82ZM203.82,95.62H209.68V97.24H203.82ZM181.39,96.94H182.76V98.55H181.39ZM204.94,96.94H206.31V98.55H204.94ZM209.43,96.94H210.8V98.55H209.43ZM283.45,96.94H284.82V98.55H283.45ZM290.18,96.94H291.55V98.55H290.18ZM283.45,98.25H284.82V99.86H283.45ZM295.78,98.25H297.16V99.86H295.78ZM298.03,99.56H300.52V101.17H298.03ZM153.35,100.88H154.72V102.49H153.35ZM181.39,100.88H182.76V102.49H181.39ZM236.34,100.88H239.96V102.49H236.34ZM265.5,100.88H268V102.49H265.5ZM283.45,100.88H284.82V102.49H283.45ZM285.69,100.88H288.18V102.49H285.69ZM298.03,100.88H299.4V102.49H298.03ZM153.35,102.19H154.72V103.8H153.35ZM180.27,102.19H182.76V103.8H180.27ZM217.28,102.19H219.77V103.8H217.28ZM236.34,102.19H239.96V103.8H236.34ZM249.8,102.19H252.3V103.8H249.8ZM264.38,102.19H268V103.8H264.38ZM273.35,102.19H274.73V103.8H273.35ZM283.45,102.19H288.18V103.8H283.45ZM294.66,102.19H296.03V103.8H294.66ZM296.91,102.19H299.4V103.8H296.91ZM145.5,103.5H146.87V105.11H145.5ZM180.27,103.5H181.64V105.11H180.27ZM210.55,103.5H211.92V105.11H210.55ZM220.64,103.5H222.01V105.11H220.64ZM236.34,103.5H239.96V105.11H236.34ZM243.07,103.5H245.57V105.11H243.07ZM252.05,103.5H253.42V105.11H252.05ZM261.02,103.5H266.88V105.11H261.02ZM272.23,103.5H274.73V105.11H272.23ZM284.57,103.5H289.31V105.11H284.57ZM292.42,103.5H296.03V105.11H292.42ZM296.91,103.5H299.4V105.11H296.91ZM145.5,104.81H152.48V106.42H145.5ZM161.2,104.81H162.57V106.42H161.2ZM164.57,104.81H165.94V106.42H164.57ZM189.24,104.81H190.61V106.42H189.24ZM193.73,104.81H196.22V106.42H193.73ZM200.45,104.81H204.07V106.42H200.45ZM207.18,104.81H213.04V106.42H207.18ZM216.16,104.81H224.26V106.42H216.16ZM226.25,104.81H227.62V106.42H226.25ZM237.47,104.81H241.08V106.42H237.47ZM243.07,104.81H245.57V106.42H243.07ZM252.05,104.81H253.42V106.42H252.05ZM257.65,104.81H260.15V106.42H257.65ZM261.02,104.81H264.63V106.42H261.02ZM272.23,104.81H275.85V106.42H272.23ZM285.69,104.81H297.16V106.42H285.69ZM145.5,106.12H153.6V107.74H145.5ZM160.08,106.12H163.69V107.74H160.08ZM164.57,106.12H167.06V107.74H164.57ZM175.78,106.12H179.4V107.74H175.78ZM189.24,106.12H191.73V107.74H189.24ZM194.85,106.12H196.22V107.74H194.85ZM201.58,106.12H204.07V107.74H201.58ZM204.94,106.12H209.68V107.74H204.94ZM210.55,106.12H213.04V107.74H210.55ZM216.16,106.12H224.26V107.74H216.16ZM225.13,106.12H228.74V107.74H225.13ZM239.71,106.12H242.2V107.74H239.71ZM243.07,106.12H245.57V107.74H243.07ZM246.44,106.12H247.81V107.74H246.44ZM253.17,106.12H254.54V107.74H253.17ZM256.53,106.12H260.15V107.74H256.53ZM261.02,106.12H263.51V107.74H261.02ZM266.62,106.12H269.12V107.74H266.62ZM269.99,106.12H276.97V107.74H269.99ZM287.93,106.12H297.16V107.74H287.93ZM145.5,107.44H146.87V109.05H145.5ZM147.74,107.44H151.36V109.05H147.74ZM152.23,107.44H153.6V109.05H152.23ZM175.78,107.44H178.27V109.05H175.78ZM189.24,107.44H191.73V109.05H189.24ZM206.06,107.44H207.43V109.05H206.06ZM211.67,107.44H214.16V109.05H211.67ZM215.03,107.44H224.26V109.05H215.03ZM225.13,107.44H227.62V109.05H225.13ZM237.47,107.44H243.32V109.05H237.47ZM245.32,107.44H248.93V109.05H245.32ZM249.8,107.44H252.3V109.05H249.8ZM256.53,107.44H260.15V109.05H256.53ZM265.5,107.44H271.36V109.05H265.5ZM286.81,107.44H288.18V109.05H286.81ZM289.06,107.44H297.16V109.05H289.06ZM148.86,108.75H152.48V110.36H148.86ZM175.78,108.75H178.27V110.36H175.78ZM183.63,108.75H185V110.36H183.63ZM200.45,108.75H201.83V110.36H200.45ZM211.67,108.75H224.26V110.36H211.67ZM237.47,108.75H241.08V110.36H237.47ZM245.32,108.75H252.3V110.36H245.32ZM257.65,108.75H259.02V110.36H257.65ZM264.38,108.75H268V110.36H264.38ZM281.2,108.75H282.58V110.36H281.2ZM286.81,108.75H288.18V110.36H286.81ZM293.54,108.75H296.03V110.36H293.54ZM146.62,110.06H147.99V111.67H146.62ZM149.99,110.06H152.48V111.67H149.99ZM169.05,110.06H172.67V111.67H169.05ZM179.15,110.06H180.52V111.67H179.15ZM182.51,110.06H186.12V111.67H182.51ZM188.12,110.06H189.49V111.67H188.12ZM195.97,110.06H198.46V111.67H195.97ZM200.45,110.06H202.95V111.67H200.45ZM211.67,110.06H216.41V111.67H211.67ZM218.4,110.06H225.38V111.67H218.4ZM229.61,110.06H230.99V111.67H229.61ZM237.47,110.06H242.2V111.67H237.47ZM245.32,110.06H252.3V111.67H245.32ZM257.65,110.06H268V111.67H257.65ZM272.23,110.06H273.6V111.67H272.23ZM281.2,110.06H284.82V111.67H281.2ZM293.54,110.06H294.91V111.67H293.54ZM302.51,110.06H305.01V111.67H302.51ZM169.05,111.38H171.55V112.99H169.05ZM182.51,111.38H185V112.99H182.51ZM195.97,111.38H198.46V112.99H195.97ZM200.45,111.38H202.95V112.99H200.45ZM212.79,111.38H217.53V112.99H212.79ZM218.4,111.38H219.77V112.99H218.4ZM229.61,111.38H230.99V112.99H229.61ZM237.47,111.38H242.2V112.99H237.47ZM245.32,111.38H252.3V112.99H245.32ZM259.9,111.38H263.51V112.99H259.9ZM264.38,111.38H268V112.99H264.38ZM281.2,111.38H284.82V112.99H281.2ZM293.54,111.38H297.16V112.99H293.54ZM301.39,111.38H305.01V112.99H301.39ZM167.93,112.69H171.55V114.3H167.93ZM174.66,112.69H177.15V114.3H174.66ZM189.24,112.69H190.61V114.3H189.24ZM195.97,112.69H198.46V114.3H195.97ZM200.45,112.69H202.95V114.3H200.45ZM203.82,112.69H205.19V114.3H203.82ZM212.79,112.69H219.77V114.3H212.79ZM239.71,112.69H244.44V114.3H239.71ZM246.44,112.69H251.17V114.3H246.44ZM261.02,112.69H263.51V114.3H261.02ZM269.99,112.69H271.36V114.3H269.99ZM281.2,112.69H284.82V114.3H281.2ZM293.54,112.69H297.16V114.3H293.54ZM299.15,112.69H305.01V114.3H299.15ZM146.62,114H147.99V115.61H146.62ZM157.84,114H159.21V115.61H157.84ZM174.66,114H177.15V115.61H174.66ZM189.24,114H191.73V115.61H189.24ZM200.45,114H204.07V115.61H200.45ZM206.06,114H222.01V115.61H206.06ZM225.13,114H227.62V115.61H225.13ZM239.71,114H247.81V115.61H239.71ZM250.92,114H252.3V115.61H250.92ZM265.5,114H268V115.61H265.5ZM278.96,114H281.45V115.61H278.96ZM282.33,114H285.94V115.61H282.33ZM290.18,114H291.55V115.61H290.18ZM293.54,114H296.03V115.61H293.54ZM302.51,114H307.25V115.61H302.51ZM146.62,115.31H147.99V116.92H146.62ZM156.72,115.31H159.21V116.92H156.72ZM171.3,115.31H172.67V116.92H171.3ZM173.54,115.31H176.03V116.92H173.54ZM189.24,115.31H191.73V116.92H189.24ZM200.45,115.31H204.07V116.92H200.45ZM206.06,115.31H220.89V116.92H206.06ZM225.13,115.31H227.62V116.92H225.13ZM239.71,115.31H247.81V116.92H239.71ZM280.08,115.31H281.45V116.92H280.08ZM282.33,115.31H285.94V116.92H282.33ZM290.18,115.31H292.67V116.92H290.18ZM303.64,115.31H307.25V116.92H303.64ZM167.93,116.62H174.91V118.24H167.93ZM189.24,116.62H191.73V118.24H189.24ZM193.73,116.62H195.1V118.24H193.73ZM200.45,116.62H202.95V118.24H200.45ZM208.31,116.62H219.77V118.24H208.31ZM239.71,116.62H245.57V118.24H239.71ZM246.44,116.62H250.05V118.24H246.44ZM254.29,116.62H255.66V118.24H254.29ZM277.84,116.62H279.21V118.24H277.84ZM280.08,116.62H284.82V118.24H280.08ZM290.18,116.62H291.55V118.24H290.18ZM293.54,116.62H294.91V118.24H293.54ZM305.88,116.62H307.25V118.24H305.88ZM165.69,117.94H174.91V119.55H165.69ZM187,117.94H189.49V119.55H187ZM195.97,117.94H197.34V119.55H195.97ZM199.33,117.94H205.19V119.55H199.33ZM209.43,117.94H211.92V119.55H209.43ZM215.03,117.94H220.89V119.55H215.03ZM221.76,117.94H225.38V119.55H221.76ZM234.1,117.94H236.59V119.55H234.1ZM240.83,117.94H244.44V119.55H240.83ZM245.32,117.94H247.81V119.55H245.32ZM248.68,117.94H250.05V119.55H248.68ZM253.17,117.94H261.27V119.55H253.17ZM263.26,117.94H264.63V119.55H263.26ZM274.48,117.94H282.58V119.55H274.48ZM287.93,117.94H292.67V119.55H287.93ZM293.54,117.94H296.03V119.55H293.54ZM302.51,117.94H307.25V119.55H302.51Z" fill="#eba49c"/><path d="M145.5,40.5H307.25V42.11H145.5ZM145.5,41.81H307.25V43.42H145.5ZM145.5,43.12H208.56V44.74H145.5ZM209.43,43.12H307.25V44.74H209.43ZM145.5,44.44H204.07V46.05H145.5ZM212.79,44.44H307.25V46.05H212.79ZM145.5,45.75H201.83V47.36H145.5ZM213.91,45.75H307.25V47.36H213.91ZM145.5,47.06H200.7V48.67H145.5ZM213.91,47.06H307.25V48.67H213.91ZM145.5,48.38H199.58V49.99H145.5ZM215.03,48.38H307.25V49.99H215.03ZM145.5,49.69H199.58V51.3H145.5ZM215.03,49.69H307.25V51.3H215.03ZM145.5,51H199.58V52.61H145.5ZM216.16,51H307.25V52.61H216.16ZM145.5,52.31H200.7V53.92H145.5ZM216.16,52.31H294.91V53.92H216.16ZM298.03,52.31H307.25V53.92H298.03ZM145.5,53.62H200.7V55.24H145.5ZM217.28,53.62H292.67V55.24H217.28ZM298.03,53.62H307.25V55.24H298.03ZM145.5,54.94H199.58V56.55H145.5ZM219.52,54.94H287.06V56.55H219.52ZM289.06,54.94H291.55V56.55H289.06ZM303.64,54.94H307.25V56.55H303.64ZM145.5,56.25H146.87V57.86H145.5ZM149.99,56.25H174.91V57.86H149.99ZM178.02,56.25H199.58V57.86H178.02ZM220.64,56.25H285.94V57.86H220.64ZM289.06,56.25H291.55V57.86H289.06ZM304.76,56.25H307.25V57.86H304.76ZM149.99,57.56H163.69V59.17H149.99ZM166.81,57.56H168.18V59.17H166.81ZM183.63,57.56H202.95V59.17H183.63ZM218.4,57.56H272.48V59.17H218.4ZM281.2,57.56H283.7V59.17H281.2ZM305.88,57.56H307.25V59.17H305.88ZM156.72,58.88H161.45V60.49H156.72ZM185.88,58.88H202.95V60.49H185.88ZM227.37,58.88H265.75V60.49H227.37ZM189.24,60.19H201.83V61.8H189.24ZM232.98,60.19H255.66V61.8H232.98ZM259.9,60.19H264.63V61.8H259.9ZM194.85,61.5H197.34V63.11H194.85ZM235.22,61.5H236.59V63.11H235.22ZM239.71,61.5H241.08V63.11H239.71ZM241.95,61.5H243.32V63.11H241.95Z" fill="#dc7262"/>
</g>
<path d="M238.59,65.44 238.81,66.12 240.16,66.17 241.95,65.7 243.3,66.22 244.87,65.96 244.87,65.28 243.75,64.49 242.85,64.02 241.95,64.12 241.28,64.39 241.05,63.65 240.16,63.28 239.48,64.02ZM247.33,64.39 248.23,63.34 249.35,63.08 250.03,63.86 249.13,64.39 249.26,65.17 249.94,65.7 250.03,66.75 250.47,68.17 248.9,68.33 248.23,67.54 248.46,66.59 247.78,65.7Z" fill="#fff" stroke="#222" stroke-width="0.35"/>
<path d="M184.98,63.23 186.32,62.39 188.12,62.55 188.34,63.28 186.77,63.39ZM186.77,65.81 187.45,65.91 187.89,64.65 188.12,63.6 187,63.7ZM188.57,65.17 189.33,65.17 190.36,64.34 189.91,63.6 188.57,63.6ZM188.79,65.96 190.81,65.44 190.59,65.17 189.02,65.59ZM190.45,65.07 192.07,64.97 191.93,64.55 190.59,64.75ZM170.17,53.62 171.97,53.73 173.31,53.1 171.97,52.58 170.17,52.84ZM173.76,55.73 175.56,55.83 177.35,55.09 176.01,54.78 174.21,55.09ZM181.84,61.24 182.96,61.24 182.73,59.92 182.06,59.4 181.61,60.19ZM176.9,57.04 178.25,57.04 178.7,56.51 177.35,56.51ZM180.49,57.83 181.39,58.09 181.39,57.04 180.27,56.88ZM193.05,58.88 194.4,59.14 194.85,58.35 193.5,58.09ZM240.16,88.28 241.5,88.28 241.5,89.33 240.38,89.33ZM239.26,89.59 239.71,89.59 240.16,91.95 239.71,92.21ZM241.5,93 241.95,93 241.95,95.1 241.64,95.1ZM240.16,55.73 241.05,55.57 241.95,54.94 240.83,54.83ZM253.17,63.6 253.84,63.34 253.62,64.65 252.72,64.91ZM259.45,63.6 261.69,63.34 261.69,64.12 259.45,64.23ZM272.91,60.45 273.8,60.19 275.37,58.61 274.7,58.45Z" fill="#1a1a1a" stroke="#1a1a1a" stroke-width="0.3"/>
<path d="M170.62,48.74 176.01,48.48 181.39,48.74 185.88,48.8 189.46,48.9M180.04,48.74 180.94,49.95 182.29,50.74M170.17,50.58 174.21,50.74 177.8,51.42M183.63,47.74 188.12,47.59 190.36,47.85M173.31,47.59 176.9,47.33 181.39,46.54 184.98,46.01M194.85,46.54 196.64,45.49 198.44,44.8M183.18,49.95 184.98,50.48 186.77,50.89" fill="none" stroke="#1a1a1a" stroke-width="0.6" stroke-linejoin="round"/>
<path d="M199.33,114.89a0.45,0.45 0 1,0 0.9,0a0.45,0.45 0 1,0 -0.9,0M209.43,116.26a0.45,0.45 0 1,0 0.9,0a0.45,0.45 0 1,0 -0.9,0M256.98,113.63a0.45,0.45 0 1,0 0.9,0a0.45,0.45 0 1,0 -0.9,0M156.04,77.46a0.45,0.45 0 1,0 0.9,0a0.45,0.45 0 1,0 -0.9,0M154.96,76.52a0.45,0.45 0 1,0 0.9,0a0.45,0.45 0 1,0 -0.9,0M184.98,88.01a0.45,0.45 0 1,0 0.9,0a0.45,0.45 0 1,0 -0.9,0M215.03,79.35a0.45,0.45 0 1,0 0.9,0a0.45,0.45 0 1,0 -0.9,0M218.85,73.05a0.45,0.45 0 1,0 0.9,0a0.45,0.45 0 1,0 -0.9,0M213.69,67.54a0.45,0.45 0 1,0 0.9,0a0.45,0.45 0 1,0 -0.9,0M251.6,98.41a0.45,0.45 0 1,0 0.9,0a0.45,0.45 0 1,0 -0.9,0M250.7,98.83a0.45,0.45 0 1,0 0.9,0a0.45,0.45 0 1,0 -0.9,0M305.65,97.09a0.45,0.45 0 1,0 0.9,0a0.45,0.45 0 1,0 -0.9,0M300.05,99.04a0.45,0.45 0 1,0 0.9,0a0.45,0.45 0 1,0 -0.9,0M300.72,95.89a0.45,0.45 0 1,0 0.9,0a0.45,0.45 0 1,0 -0.9,0M297.58,92.74a0.45,0.45 0 1,0 0.9,0a0.45,0.45 0 1,0 -0.9,0M295.33,91.16a0.45,0.45 0 1,0 0.9,0a0.45,0.45 0 1,0 -0.9,0M158.73,96.99a0.45,0.45 0 1,0 0.9,0a0.45,0.45 0 1,0 -0.9,0M148.64,94.94a0.45,0.45 0 1,0 0.9,0a0.45,0.45 0 1,0 -0.9,0M190.14,105.39a0.45,0.45 0 1,0 0.9,0a0.45,0.45 0 1,0 -0.9,0M219.34,91.9a0.45,0.45 0 1,0 0.9,0a0.45,0.45 0 1,0 -0.9,0M223.24,96.1a0.45,0.45 0 1,0 0.9,0a0.45,0.45 0 1,0 -0.9,0M248.9,112.11a0.45,0.45 0 1,0 0.9,0a0.45,0.45 0 1,0 -0.9,0M242.71,112.32a0.45,0.45 0 1,0 0.9,0a0.45,0.45 0 1,0 -0.9,0M196.33,70.79a0.45,0.45 0 1,0 0.9,0a0.45,0.45 0 1,0 -0.9,0M191.03,74.89a0.45,0.45 0 1,0 0.9,0a0.45,0.45 0 1,0 -0.9,0" fill="#333"/>
<path d="M150.88,53.36 151.78,51.79 153.13,51 156.04,50.32 158.06,50.58 161.2,51 163,51.16 165.24,51.52 167.93,51 170.17,51.26 173.76,51.79 176.9,52.05 179.59,51.79 182.29,52.16 183.63,51.79 184.08,50.21 186.32,51.52 188.12,51.26 189.46,52.58 187.67,53.1 186.77,54.15 184.08,55.73 184.98,56.51 186.77,57.04 188.57,57.3 190.36,57.56 191.26,57.04 191.71,55.99 191.26,55.04 193.5,55.2 194.85,55.73 197.09,56.09 198.44,57.83 199.11,58.88 200.68,60.45 201.13,60.71 199.33,61.5 196.64,61.5 197.45,62.29 197.09,63.08 198.88,63.86 196.64,64.65 194.85,64.91 194.85,65.96 193.05,66.49 192.38,67.54 192.16,69.11 191.26,69.9 189.91,71.21 190.14,73.05 190.36,74.36 189.69,74.21 189.15,73.05 188.57,72 186.77,71.84 186.1,72.53 184.08,72.16 182.6,73.31 182.42,75.15 182.6,76.46 183.18,77.78 183.86,78.19 185.43,77.93 185.65,76.72 187.22,76.46 186.77,78.04 186.55,79.35 188.57,79.4 188.88,80.4 188.7,81.97 189.46,83.03 190.59,82.76 191.53,83.18 191.26,83.81 190.14,83.92 189.02,83.39 187.76,82.5 187,80.93 185.2,80.4 183.86,79.35 182.73,79.46 180.94,78.72 178.92,77.25 178.92,75.94 177.58,74.36 176.01,72.53 174.79,71.11 175.56,72.53 176.23,74.1 177.13,75.68 176.01,74.62 174.88,73.05 173.99,71.21 173.67,70.58 172.19,69.64 171.3,68.06 170.62,66.59 170.4,65.17 170.62,63.34 170.31,62.34 169.28,61.24 167.93,59.4 166.58,57.83 165.01,57.04 163.44,56.36 161.2,56.09 159.86,56.25 158.29,56.67 157.16,57.83 155.15,58.35 153.57,58.88 152.45,59.14 154.02,57.04 155.82,56.93 153.57,56.3 152.23,55.99 151.78,55.2 152.45,54.57 154.02,53.99 151.78,53.84ZM170.17,51.26 176.9,51.79 183.63,51.52 186.77,51.26 189.46,50.74 192.16,49.69 194.85,47.85 191.26,46.8 194.85,45.49 198.44,44.59 192.6,44.07 183.63,44.7 176.9,46.27 171.52,47.33 170.17,48.9ZM193.5,46.7 196.64,45.49 199.33,44.7 203.82,44.44 208.31,43.91 212.79,44.02 217.28,44.7 220.87,44.96 218.18,46.27 217.28,47.85 216.38,49.69 215.48,51 212.79,51.95 210.55,53.1 208.31,53.62 206.96,56.25 205.17,55.73 203.82,54.15 202.47,52.84 202.03,51 201.13,49.69 199.33,47.95 196.64,47.85ZM190.36,49.06 193.5,50.21 195.74,50.74 196.64,52.58 198.44,52.84 197.09,53.89 197.31,54.67 194.85,54.94 193.95,54.41 191.71,53.89 193.05,53.36 193.73,52.31 192.38,51.52 190.36,51 188.12,51 186.32,50.21 187.67,49.01ZM173.31,50.21 175.56,49.42 178.7,49.27 180.72,50.74 179.59,51.63 176.01,51.68 173.54,51.26ZM184.98,47.33 190.36,47.69 192.16,46.54 194.85,46.01 198.44,44.7 192.6,44.17 186.77,44.7 184.98,45.75ZM170.17,50.05 172.42,48.64 174.21,49.16 172.87,50.48 171.07,50.48ZM184.98,47.69 190.36,47.59 190.36,48.59 184.98,48.59ZM173.76,47.74 178.7,47.74 179.59,48.38 173.31,48.38ZM179.59,48.9 182.29,48.9 183.18,49.95 180.94,50.21ZM215.48,53.36 216.38,52.89 219.52,52.84 220.19,53.62 217.95,54.47 216.16,54.26ZM199.65,62.76 201.35,60.66 202.47,62.55 202.56,63.23 201.13,62.81ZM188.12,76.25 190.36,75.57 192.96,77.15 191.48,77.3 189.46,75.94ZM192.87,78.04 193.95,77.25 195.56,78.04 194.4,78.51 192.87,78.14ZM191.53,83.18 192.38,82.13 193.73,81.56 194.26,81.97 195.74,82.24 197.54,82.13 198.53,82.24 199.02,83.29 200.45,84.6 202.03,84.71 203.15,85.55 203.82,86.81 204.49,88.28 206.29,89.06 208.31,89.22 210.41,90.53 210.64,91.69 210.32,92.74 208.98,94.58 208.75,96.94 208.08,98.51 207.41,99.83 206.29,99.93 204.49,101.4 204.36,102.71 203.37,104.03 202.47,105.44 201.13,106.07 200.1,105.6 200.68,106.91 200.45,107.7 198.44,108.23 198.35,109.28 197.09,109.8 196.87,111.38 195.97,112.16 196.64,112.95 195.61,114 195.3,115.05 195.52,115.84 196.42,116.62 194.85,116.62 193.05,115.31 192.38,113.21 193.05,111.38 193.28,109.28 193.19,107.17 194.17,104.55 194.22,102.45 194.62,100.09 194.76,97.46 194.17,96.78 192.38,95.78 191.71,94.05 190.59,91.69 189.82,90.64 190.36,89.33 190.14,88.28 190.45,87.22 190.99,86.81 191.48,85.65 191.48,84.34 191.3,83.97ZM223.6,68.95 225.35,69.32 227.6,68.43 230.83,68.22 231.18,69.11 230.74,69.9 231.41,70.42 233.07,70.79 235,71.74 235.22,70.95 236.57,70.64 239.26,71.53 240.74,71.32 241.59,71.32 241.73,72.26 241.28,73.05 240.87,72.05 241.28,73.47 242.18,75.15 242.94,76.72 243.52,78.3 243.97,79.61 244.87,80.66 245.67,81.19 246.21,82.29 249.22,81.56 249.13,82.29 248.46,84.6 247.33,85.75 245.54,87.75 244.87,88.69 243.97,90.27 243.66,91.16 243.97,91.95 244.42,93.26 244.42,95.62 242.85,96.94 241.95,98.25 242.18,100.35 240.96,101.4 240.83,102.71 239.93,104.03 238.59,105.34 237.69,105.6 236.12,105.7 235.22,106.02 234.55,105.7 234.32,104.55 233.65,102.71 233.07,101.93 232.75,99.56 232.08,98.25 231.54,96.68 231.77,94.84 232.17,92.47 231.72,90.9 231.63,90.38 230.29,88.54 230.51,87.22 230.65,85.91 230.06,85.39 228.94,85.49 228.27,84.44 226.92,84.55 225.35,85.23 222.89,85.44 222.21,84.97 221.09,84.18 220.28,83.24 219.52,82.08 218.71,81.19 218.4,80.03 218.85,79.19 219.07,77.51 218.62,76.72 219.52,75.15 219.75,74.1 220.42,73.26 221.76,72.26 221.85,71.21 223.11,70.06ZM248.37,94.05 248.9,95.89 248.46,96.94 247.33,100.88 246.44,101.14 245.76,99.3 246.12,97.2 247.11,96.05 247.78,94.84ZM223.74,68.85 223.33,68.38 222.21,68.33 222.3,66.75 222.08,65.17 222.66,64.81 224.46,64.91 225.58,64.97 225.71,63.6 225.13,62.92 224.23,62.34 225.58,62.18 226.34,61.76 226.97,61.03 227.82,60.71 228.49,59.92 229.84,59.66 230.11,58.61 229.93,57.93 230.74,57.56 230.96,58.88 231.86,59.14 232.53,59.4 234.55,59.09 235.67,58.61 235.67,57.83 236.79,57.72 236.34,56.78 238.81,56.51 239.48,56.25 237.91,56.04 236.34,56.25 235.9,55.46 237.47,53.62 237.56,53.2 236.12,53.26 234.19,54.94 233.88,55.73 234.77,56.36 233.65,57.83 233.43,58.25 232.08,58.67 231.86,58.09 231.54,57.3 231.01,56.67 229.84,57.3 228.72,56.88 228.49,55.2 229.84,54.41 231.63,53.36 232.75,52.16 234.32,51.26 236.57,50.58 238.81,50.48 240.16,51 241.05,51.37 242.4,51.52 244.64,52.31 244.19,53.1 241.95,53.89 242.85,54.26 244.64,52.84 245.99,52.94 245.9,51.79 247.11,52.05 250.03,51.79 252.27,51.58 253.17,51.26 255.86,51.52 256.98,51.89 256.22,50.58 257.2,49.53 259,51.52 259.45,49.69 262.14,49.69 263.04,49.16 265.28,48.9 267.52,47.95 271.11,47.59 273.04,46.96 276.49,49.06 276.94,49.16 280.08,49.42 283.22,49.16 284.35,50.21 286.81,50.16 289.06,49.69 291.75,49.79 293.99,50.21 296.23,50.48 298.03,50.74 300.27,51.16 302.51,51 305.21,51.11 307,51.63 307,53.62 306.33,53.89 305.65,54.94 303.86,55.73 302.51,56.25 299.37,56.36 299.37,57.3 298.93,58.35 296.5,60.98 296.23,60.19 296.01,58.35 296.46,57.56 298.03,55.46 296.23,55.41 294.44,56.67 290.4,56.56 289.28,57.56 287.93,59.4 289.5,60.19 289.28,61.5 289.06,62.55 287.93,63.86 285.92,65.33 284.88,65.54 284.35,66.49 283.9,67.54 284.3,68.85 284.12,69.38 283,69.74 282.77,68.33 282.33,67.01 280.62,67.38 281.12,66.49 280.53,66.28 279.19,67.17 278.96,67.54 279.63,68.22 281.2,68.12 279.86,69.38 280.44,70.79 280.94,71.47 280.76,73.05 279.86,74.36 278.51,75.68 277.17,76.04 275.82,76.62 275.51,76.46 274.7,76.46 274.03,77.25 273.71,77.78 274.12,78.72 275.06,79.72 275.28,81.45 274.48,82.24 273.35,83.18 273.26,82.24 272.46,81.97 271.51,81.08 271.11,80.66 270.75,82.24 271.25,83.29 271.78,84.86 272.68,85.65 273,87.07 272.68,87.07 271.78,86.28 271.25,84.86 270.44,83.55 270.35,81.97 270.08,79.09 268.64,79.19 268.55,77.93 267.66,76.88 267.43,75.94 266.85,76.2 265.95,76.36 265.28,76.46 264.38,77.51 263.17,78.98 262.23,80.66 262.05,82.34 261.02,83.5 260.48,82.5 259.81,80.93 259.13,78.83 258.91,76.72 258.77,76.04 257.74,76.78 257.11,75.89 256.53,75.15 256.08,74.41 253.88,74.52 251.96,74.21 251.51,73.47 250.47,73.78 249.35,73.16 248.68,72 247.78,72 248.01,72.94 248.73,73.84 249.35,74.89 250.7,75.05 251.51,73.94 251.55,74.89 252.58,75.41 253.08,75.99 252.18,77.78 250.92,78.83 249.58,79.46 248.1,80.4 246.44,81.03 245.67,81.08 245.45,79.88 245.32,79.09 244.19,77.09 243.75,76.2 242.85,74.36 241.95,73.05 241.91,72.26 241.59,71.32 241.95,70.53 242.36,69.22 242.49,68.53 240.96,68.8 239.93,68.69 238.81,68.43 238.14,67.54 238,66.75 237.91,66.33 237.02,66.38 236.48,66.59 236.79,67.8 236.12,68.59 235.76,67.91 235.22,67.01 234.95,65.81 233.43,64.91 232.4,64.02 231.77,63.97 232.31,64.86 233.43,65.75 234.55,66.64 234.24,66.86 233.65,67.54 233.29,67.8 233.25,66.75 231.63,65.7 230.87,64.86 230.2,64.44 229.17,65.12 227.69,65.07 227.6,65.81 226.47,66.49 226.12,67.12 226.34,67.43 225.89,68.01 225.26,68.48 224.23,68.53ZM145.5,51.63 148.19,52.31 149.54,52.68 150.12,53.1 148.86,53.89 147.29,53.78 146.17,53.36 145.5,53.62ZM223.69,61.5 224.9,61.19 226.88,60.87 227.01,60.08 226.25,59.66 225.58,58.88 225.35,58.35 225.44,57.51 224.68,56.98 224.01,56.98 223.47,57.93 223.78,58.61 224.1,58.98 224.9,59.4 224.1,59.92 224.32,60.29 223.87,60.61 224.9,60.82ZM223.56,60.34 223.47,59.4 223.78,59.09 222.98,58.72 221.76,59.3 221.81,60.45 222.66,60.66ZM284.97,69.9 285.92,69.64 287.04,69.64 287.62,69.64 288.97,69.38 289.41,68.85 289.5,67.64 289.95,67.01 289.68,66.02 289.06,66.49 288.97,67.28 288.38,67.91 287.62,68.22 287.04,69.06 285.92,69.11 285.24,69.53ZM289.06,65.96 289.82,65.44 290.54,65.7 291.52,65.02 291.07,64.65 289.82,63.92 289.73,64.91 289.06,65.17ZM284.48,70.16 285.02,69.95 285.47,70.42 285.02,71.47 284.66,71.37ZM289.95,63.6 290.63,63.18 290.4,61.76 291.07,62.03 290.49,60.56 290.31,59.24 290.04,59.4 289.86,60.45 289.95,62.03 289.91,63.28ZM280.17,75.68 280.53,74.52 280.98,74.62 280.53,76.2ZM275.01,77.67 275.82,77.2 276.05,77.46 275.51,78.19ZM280.08,78.04 281.12,78.04 280.98,79.19 280.98,80.4 281.88,80.93 281.65,81.14 280.53,80.4 280.31,79.88ZM280.98,84.08 282.55,82.61 283,84.08 282.55,84.71 281.88,84.44ZM280.98,81.56 281.88,81.71 282.77,81.97 282.1,82.61 281.2,82.76ZM275.15,86.96 276.05,86.81 276.94,86.07 278.06,85.02 278.74,84.08 279.72,85.02 279.19,85.65 278.96,87.22 279.55,87.22 278.51,88.38 278.29,89.59 277.62,89.85 276.27,89.33 275.69,88.54 275.15,87.75ZM269,84.81 269.99,85.02 271.25,86.7 272.77,88.28 273.8,89.43 273.71,90.8 273.13,90.85 272.01,89.85 271.25,88.28 270.48,86.81 269.09,85.65ZM273.44,91.32 273.8,90.9 274.92,91.11 276.05,91.16 276.81,91.37 277.62,91.84 277.62,92.32 276.05,92.06 274.7,91.84 273.58,91.43ZM279.86,90.64 279.63,89.33 279.99,87.75 280.31,87.22 282.33,86.96 280.53,87.54 281.56,88.28 280.67,88.75 281.56,89.96 280.98,90.27 280.26,89.27 280.26,90.64ZM285.02,88.43 286.36,88.17 287.93,88.54 289.5,89.12 291.52,90.01 292.64,90.9 292.42,91.95 293.54,93.16 291.97,92.47 290.85,91.79 290.18,92.63 289.5,92.47 288.16,92.11 288.07,90.53 286.81,90.06 285.69,89.59 285.47,89.06ZM277.17,99.3 277.39,101.4 277.84,103.24 278.06,105.44 278.96,106.12 280.08,105.6 281.65,105.5 282.77,104.71 285.02,104.29 286.36,104.97 287.17,106.02 288.07,105.08 287.93,106.39 288.83,106.65 289.06,107.7 290.63,108.12 291.88,108.28 292.78,107.59 293.54,107.39 294.12,105.39 294.89,104.03 295.11,102.45 294.89,100.88 293.9,99.62 293.09,98.51 291.88,97.72 291.52,95.62 290.63,95.1 290.18,93.42 289.77,94.58 289.73,96.68 289.28,96.99 288.61,96.68 287.26,95.89 287.62,94.21 286.81,94.05 285.69,93.68 284.93,94.21 284.35,95.62 283.58,95.21 282.77,95.1 282.1,96.36 281.2,96.68 280.76,97.88 279.41,98.41 278.51,98.62 277.62,99.19ZM291.16,109.12 292.78,109.22 292.64,110.33 291.97,110.64 291.3,109.8ZM303.73,105.81 304.76,106.91 306.33,107.54 305.65,108.33 304.76,109.54 304.58,108.65 304.22,108.33 304.53,107.17ZM303.73,109.01 304.44,109.64 303.86,110.59 302.96,111.64 302.07,112.22 300.94,111.9 301.75,110.85 302.96,109.8ZM262.05,82.61 262.95,83.81 262.68,84.5 262.14,84.6 262,83.44ZM231.18,46.54 233.43,45.75 238.36,45.64 236.12,46.8 233.88,47.59ZM249.58,50.48 251.37,49.16 253.17,48.11 256.76,47.33 255.41,48.11 252.27,49.42 250.92,50.63ZM268.87,46.01 271.11,45.23 272.91,46.01 270.66,46.7ZM287.71,48.11 290.4,47.85 293.54,48.38 289.06,49.01ZM246.44,45.49 250.92,45.12 254.06,45.49 249.58,45.86Z" fill="none" stroke="#141414" stroke-width="0.7" stroke-linejoin="round"/>
<rect x="145.6" y="40.5" width="161.2" height="78.8" fill="none" stroke="#858585" stroke-width="0.9"/>
<clipPath id="land188"><path d="M338.88,53.36 339.78,51.79 341.13,51 344.04,50.32 346.06,50.58 349.2,51 351,51.16 353.24,51.52 355.93,51 358.17,51.26 361.76,51.79 364.9,52.05 367.59,51.79 370.29,52.16 371.63,51.79 372.08,50.21 374.32,51.52 376.12,51.26 377.46,52.58 375.67,53.1 374.77,54.15 372.08,55.73 372.98,56.51 374.77,57.04 376.57,57.3 378.36,57.56 379.26,57.04 379.71,55.99 379.26,55.04 381.5,55.2 382.85,55.73 385.09,56.09 386.44,57.83 387.11,58.88 388.68,60.45 389.13,60.71 387.33,61.5 384.64,61.5 385.45,62.29 385.09,63.08 386.88,63.86 384.64,64.65 382.85,64.91 382.85,65.96 381.05,66.49 380.38,67.54 380.16,69.11 379.26,69.9 377.91,71.21 378.14,73.05 378.36,74.36 377.69,74.21 377.15,73.05 376.57,72 374.77,71.84 374.1,72.53 372.08,72.16 370.6,73.31 370.42,75.15 370.6,76.46 371.18,77.78 371.86,78.19 373.43,77.93 373.65,76.72 375.22,76.46 374.77,78.04 374.55,79.35 376.57,79.4 376.88,80.4 376.7,81.97 377.46,83.03 378.59,82.76 379.53,83.18 379.26,83.81 378.14,83.92 377.02,83.39 375.76,82.5 375,80.93 373.2,80.4 371.86,79.35 370.73,79.46 368.94,78.72 366.92,77.25 366.92,75.94 365.58,74.36 364.01,72.53 362.79,71.11 363.56,72.53 364.23,74.1 365.13,75.68 364.01,74.62 362.88,73.05 361.99,71.21 361.67,70.58 360.19,69.64 359.3,68.06 358.62,66.59 358.4,65.17 358.62,63.34 358.31,62.34 357.28,61.24 355.93,59.4 354.58,57.83 353.01,57.04 351.44,56.36 349.2,56.09 347.86,56.25 346.29,56.67 345.16,57.83 343.15,58.35 341.57,58.88 340.45,59.14 342.02,57.04 343.82,56.93 341.57,56.3 340.23,55.99 339.78,55.2 340.45,54.57 342.02,53.99 339.78,53.84Z"/><path d="M358.17,51.26 364.9,51.79 371.63,51.52 374.77,51.26 377.46,50.74 380.16,49.69 382.85,47.85 379.26,46.8 382.85,45.49 386.44,44.59 380.6,44.07 371.63,44.7 364.9,46.27 359.52,47.33 358.17,48.9Z"/><path d="M381.5,46.7 384.64,45.49 387.33,44.7 391.82,44.44 396.31,43.91 400.79,44.02 405.28,44.7 408.87,44.96 406.18,46.27 405.28,47.85 404.38,49.69 403.48,51 400.79,51.95 398.55,53.1 396.31,53.62 394.96,56.25 393.17,55.73 391.82,54.15 390.47,52.84 390.02,51 389.13,49.69 387.33,47.95 384.64,47.85Z"/><path d="M378.36,49.06 381.5,50.21 383.74,50.74 384.64,52.58 386.44,52.84 385.09,53.89 385.31,54.67 382.85,54.94 381.95,54.41 379.71,53.89 381.05,53.36 381.73,52.31 380.38,51.52 378.36,51 376.12,51 374.32,50.21 375.67,49.01Z"/><path d="M361.31,50.21 363.56,49.42 366.7,49.27 368.72,50.74 367.59,51.63 364.01,51.68 361.54,51.26Z"/><path d="M372.98,47.33 378.36,47.69 380.16,46.54 382.85,46.01 386.44,44.7 380.6,44.17 374.77,44.7 372.98,45.75Z"/><path d="M358.17,50.05 360.42,48.64 362.21,49.16 360.87,50.48 359.07,50.48Z"/><path d="M372.98,47.69 378.36,47.59 378.36,48.59 372.98,48.59Z"/><path d="M361.76,47.74 366.7,47.74 367.59,48.38 361.31,48.38Z"/><path d="M367.59,48.9 370.29,48.9 371.18,49.95 368.94,50.21Z"/><path d="M403.48,53.36 404.38,52.89 407.52,52.84 408.19,53.62 405.95,54.47 404.16,54.26Z"/><path d="M387.65,62.76 389.35,60.66 390.47,62.55 390.56,63.23 389.13,62.81Z"/><path d="M376.12,76.25 378.36,75.57 380.96,77.15 379.48,77.3 377.46,75.94Z"/><path d="M380.87,78.04 381.95,77.25 383.56,78.04 382.4,78.51 380.87,78.14Z"/><path d="M379.53,83.18 380.38,82.13 381.73,81.56 382.26,81.97 383.74,82.24 385.54,82.13 386.53,82.24 387.02,83.29 388.45,84.6 390.02,84.71 391.15,85.55 391.82,86.81 392.49,88.28 394.29,89.06 396.31,89.22 398.41,90.53 398.64,91.69 398.32,92.74 396.98,94.58 396.75,96.94 396.08,98.51 395.41,99.83 394.29,99.93 392.49,101.4 392.36,102.71 391.37,104.03 390.47,105.44 389.13,106.07 388.1,105.6 388.68,106.91 388.45,107.7 386.44,108.23 386.35,109.28 385.09,109.8 384.87,111.38 383.97,112.16 384.64,112.95 383.61,114 383.3,115.05 383.52,115.84 384.42,116.62 382.85,116.62 381.05,115.31 380.38,113.21 381.05,111.38 381.28,109.28 381.19,107.17 382.17,104.55 382.22,102.45 382.62,100.09 382.76,97.46 382.17,96.78 380.38,95.78 379.71,94.05 378.59,91.69 377.82,90.64 378.36,89.33 378.14,88.28 378.45,87.22 378.99,86.81 379.48,85.65 379.48,84.34 379.3,83.97Z"/><path d="M411.6,68.95 413.35,69.32 415.6,68.43 418.83,68.22 419.18,69.11 418.74,69.9 419.41,70.42 421.07,70.79 423,71.74 423.22,70.95 424.57,70.64 427.26,71.53 428.74,71.32 429.59,71.32 429.73,72.26 429.28,73.05 428.87,72.05 429.28,73.47 430.18,75.15 430.94,76.72 431.52,78.3 431.97,79.61 432.87,80.66 433.67,81.19 434.21,82.29 437.22,81.56 437.13,82.29 436.46,84.6 435.33,85.75 433.54,87.75 432.87,88.69 431.97,90.27 431.66,91.16 431.97,91.95 432.42,93.26 432.42,95.62 430.85,96.94 429.95,98.25 430.18,100.35 428.96,101.4 428.83,102.71 427.93,104.03 426.59,105.34 425.69,105.6 424.12,105.7 423.22,106.02 422.55,105.7 422.32,104.55 421.65,102.71 421.07,101.93 420.75,99.56 420.08,98.25 419.54,96.68 419.77,94.84 420.17,92.47 419.72,90.9 419.63,90.38 418.29,88.54 418.51,87.22 418.65,85.91 418.06,85.39 416.94,85.49 416.27,84.44 414.92,84.55 413.35,85.23 410.89,85.44 410.21,84.97 409.09,84.18 408.28,83.24 407.52,82.08 406.71,81.19 406.4,80.03 406.85,79.19 407.07,77.51 406.62,76.72 407.52,75.15 407.75,74.1 408.42,73.26 409.76,72.26 409.85,71.21 411.11,70.06Z"/><path d="M436.37,94.05 436.9,95.89 436.46,96.94 435.33,100.88 434.44,101.14 433.76,99.3 434.12,97.2 435.11,96.05 435.78,94.84Z"/><path d="M411.74,68.85 411.33,68.38 410.21,68.33 410.3,66.75 410.08,65.17 410.66,64.81 412.46,64.91 413.58,64.97 413.71,63.6 413.13,62.92 412.23,62.34 413.58,62.18 414.34,61.76 414.97,61.03 415.82,60.71 416.49,59.92 417.84,59.66 418.11,58.61 417.93,57.93 418.74,57.56 418.96,58.88 419.86,59.14 420.53,59.4 422.55,59.09 423.67,58.61 423.67,57.83 424.79,57.72 424.34,56.78 426.81,56.51 427.48,56.25 425.91,56.04 424.34,56.25 423.9,55.46 425.47,53.62 425.56,53.2 424.12,53.26 422.19,54.94 421.88,55.73 422.77,56.36 421.65,57.83 421.43,58.25 420.08,58.67 419.86,58.09 419.54,57.3 419.01,56.67 417.84,57.3 416.72,56.88 416.49,55.2 417.84,54.41 419.63,53.36 420.75,52.16 422.32,51.26 424.57,50.58 426.81,50.48 428.16,51 429.05,51.37 430.4,51.52 432.64,52.31 432.19,53.1 429.95,53.89 430.85,54.26 432.64,52.84 433.99,52.94 433.9,51.79 435.11,52.05 438.03,51.79 440.27,51.58 441.17,51.26 443.86,51.52 444.98,51.89 444.22,50.58 445.2,49.53 447,51.52 447.45,49.69 450.14,49.69 451.04,49.16 453.28,48.9 455.52,47.95 459.11,47.59 461.04,46.96 464.49,49.06 464.94,49.16 468.08,49.42 471.22,49.16 472.35,50.21 474.81,50.16 477.06,49.69 479.75,49.79 481.99,50.21 484.23,50.48 486.03,50.74 488.27,51.16 490.51,51 493.21,51.11 495,51.63 495,53.62 494.33,53.89 493.65,54.94 491.86,55.73 490.51,56.25 487.37,56.36 487.37,57.3 486.93,58.35 484.5,60.98 484.23,60.19 484.01,58.35 484.46,57.56 486.03,55.46 484.23,55.41 482.44,56.67 478.4,56.56 477.28,57.56 475.93,59.4 477.5,60.19 477.28,61.5 477.06,62.55 475.93,63.86 473.92,65.33 472.88,65.54 472.35,66.49 471.9,67.54 472.3,68.85 472.12,69.38 471,69.74 470.77,68.33 470.33,67.01 468.62,67.38 469.12,66.49 468.53,66.28 467.19,67.17 466.96,67.54 467.63,68.22 469.2,68.12 467.86,69.38 468.44,70.79 468.94,71.47 468.76,73.05 467.86,74.36 466.51,75.68 465.17,76.04 463.82,76.62 463.51,76.46 462.7,76.46 462.03,77.25 461.71,77.78 462.12,78.72 463.06,79.72 463.28,81.45 462.48,82.24 461.35,83.18 461.26,82.24 460.46,81.97 459.51,81.08 459.11,80.66 458.75,82.24 459.25,83.29 459.78,84.86 460.68,85.65 461,87.07 460.68,87.07 459.78,86.28 459.25,84.86 458.44,83.55 458.35,81.97 458.08,79.09 456.64,79.19 456.55,77.93 455.66,76.88 455.43,75.94 454.85,76.2 453.95,76.36 453.28,76.46 452.38,77.51 451.17,78.98 450.23,80.66 450.05,82.34 449.02,83.5 448.48,82.5 447.81,80.93 447.13,78.83 446.91,76.72 446.77,76.04 445.74,76.78 445.11,75.89 444.53,75.15 444.08,74.41 441.88,74.52 439.96,74.21 439.51,73.47 438.48,73.78 437.35,73.16 436.68,72 435.78,72 436.01,72.94 436.73,73.84 437.35,74.89 438.7,75.05 439.51,73.94 439.55,74.89 440.58,75.41 441.08,75.99 440.18,77.78 438.92,78.83 437.58,79.46 436.1,80.4 434.44,81.03 433.67,81.08 433.45,79.88 433.32,79.09 432.19,77.09 431.75,76.2 430.85,74.36 429.95,73.05 429.91,72.26 429.59,71.32 429.95,70.53 430.36,69.22 430.49,68.53 428.96,68.8 427.93,68.69 426.81,68.43 426.14,67.54 426,66.75 425.91,66.33 425.02,66.38 424.48,66.59 424.79,67.8 424.12,68.59 423.76,67.91 423.22,67.01 422.95,65.81 421.43,64.91 420.4,64.02 419.77,63.97 420.31,64.86 421.43,65.75 422.55,66.64 422.24,66.86 421.65,67.54 421.29,67.8 421.25,66.75 419.63,65.7 418.87,64.86 418.2,64.44 417.17,65.12 415.69,65.07 415.6,65.81 414.47,66.49 414.12,67.12 414.34,67.43 413.89,68.01 413.26,68.48 412.23,68.53Z"/><path d="M333.5,51.63 336.19,52.31 337.54,52.68 338.12,53.1 336.86,53.89 335.29,53.78 334.17,53.36 333.5,53.62Z"/><path d="M411.69,61.5 412.9,61.19 414.88,60.87 415.01,60.08 414.25,59.66 413.58,58.88 413.35,58.35 413.44,57.51 412.68,56.98 412.01,56.98 411.47,57.93 411.78,58.61 412.1,58.98 412.9,59.4 412.1,59.92 412.32,60.29 411.87,60.61 412.9,60.82Z"/><path d="M411.56,60.34 411.47,59.4 411.78,59.09 410.98,58.72 409.76,59.3 409.81,60.45 410.66,60.66Z"/><path d="M472.97,69.9 473.92,69.64 475.04,69.64 475.62,69.64 476.97,69.38 477.41,68.85 477.5,67.64 477.95,67.01 477.68,66.02 477.06,66.49 476.97,67.28 476.38,67.91 475.62,68.22 475.04,69.06 473.92,69.11 473.24,69.53Z"/><path d="M477.06,65.96 477.82,65.44 478.54,65.7 479.52,65.02 479.07,64.65 477.82,63.92 477.73,64.91 477.06,65.17Z"/><path d="M472.48,70.16 473.02,69.95 473.47,70.42 473.02,71.47 472.66,71.37Z"/><path d="M477.95,63.6 478.63,63.18 478.4,61.76 479.07,62.03 478.49,60.56 478.31,59.24 478.04,59.4 477.86,60.45 477.95,62.03 477.91,63.28Z"/><path d="M468.17,75.68 468.53,74.52 468.98,74.62 468.53,76.2Z"/><path d="M463.01,77.67 463.82,77.2 464.05,77.46 463.51,78.19Z"/><path d="M468.08,78.04 469.12,78.04 468.98,79.19 468.98,80.4 469.88,80.93 469.65,81.14 468.53,80.4 468.31,79.88Z"/><path d="M468.98,84.08 470.55,82.61 471,84.08 470.55,84.71 469.88,84.44Z"/><path d="M468.98,81.56 469.88,81.71 470.77,81.97 470.1,82.61 469.2,82.76Z"/><path d="M463.15,86.96 464.05,86.81 464.94,86.07 466.06,85.02 466.74,84.08 467.72,85.02 467.19,85.65 466.96,87.22 467.55,87.22 466.51,88.38 466.29,89.59 465.62,89.85 464.27,89.33 463.69,88.54 463.15,87.75Z"/><path d="M457,84.81 457.99,85.02 459.25,86.7 460.77,88.28 461.8,89.43 461.71,90.8 461.13,90.85 460.01,89.85 459.25,88.28 458.48,86.81 457.09,85.65Z"/><path d="M461.44,91.32 461.8,90.9 462.92,91.11 464.05,91.16 464.81,91.37 465.62,91.84 465.62,92.32 464.05,92.06 462.7,91.84 461.58,91.43Z"/><path d="M467.86,90.64 467.63,89.33 467.99,87.75 468.31,87.22 470.33,86.96 468.53,87.54 469.56,88.28 468.67,88.75 469.56,89.96 468.98,90.27 468.26,89.27 468.26,90.64Z"/><path d="M473.02,88.43 474.36,88.17 475.93,88.54 477.5,89.12 479.52,90.01 480.64,90.9 480.42,91.95 481.54,93.16 479.97,92.47 478.85,91.79 478.18,92.63 477.5,92.47 476.16,92.11 476.07,90.53 474.81,90.06 473.69,89.59 473.47,89.06Z"/><path d="M465.17,99.3 465.39,101.4 465.84,103.24 466.06,105.44 466.96,106.12 468.08,105.6 469.65,105.5 470.77,104.71 473.02,104.29 474.36,104.97 475.17,106.02 476.07,105.08 475.93,106.39 476.83,106.65 477.06,107.7 478.63,108.12 479.88,108.28 480.78,107.59 481.54,107.39 482.12,105.39 482.89,104.03 483.11,102.45 482.89,100.88 481.9,99.62 481.09,98.51 479.88,97.72 479.52,95.62 478.63,95.1 478.18,93.42 477.77,94.58 477.73,96.68 477.28,96.99 476.61,96.68 475.26,95.89 475.62,94.21 474.81,94.05 473.69,93.68 472.93,94.21 472.35,95.62 471.58,95.21 470.77,95.1 470.1,96.36 469.2,96.68 468.76,97.88 467.41,98.41 466.51,98.62 465.62,99.19Z"/><path d="M479.16,109.12 480.78,109.22 480.64,110.33 479.97,110.64 479.3,109.8Z"/><path d="M491.73,105.81 492.76,106.91 494.33,107.54 493.65,108.33 492.76,109.54 492.58,108.65 492.22,108.33 492.53,107.17Z"/><path d="M491.73,109.01 492.44,109.64 491.86,110.59 490.96,111.64 490.07,112.22 488.94,111.9 489.75,110.85 490.96,109.8Z"/><path d="M450.05,82.61 450.95,83.81 450.68,84.5 450.14,84.6 450,83.44Z"/><path d="M419.18,46.54 421.43,45.75 426.36,45.64 424.12,46.8 421.88,47.59Z"/><path d="M437.58,50.48 439.37,49.16 441.17,48.11 444.76,47.33 443.41,48.11 440.27,49.42 438.92,50.63Z"/><path d="M456.87,46.01 459.11,45.23 460.91,46.01 458.66,46.7Z"/><path d="M475.71,48.11 478.4,47.85 481.54,48.38 477.06,49.01Z"/><path d="M434.44,45.49 438.92,45.12 442.06,45.49 437.58,45.86Z"/></clipPath>
<g clip-path="url(#land188)">
<path d="M359.3,65.44H360.67V67.05H359.3ZM359.3,66.75H361.79V68.36H359.3ZM359.3,68.06H361.79V69.67H359.3ZM359.3,69.38H362.91V70.99H359.3ZM461.35,69.38H467.21V70.99H461.35ZM358.17,70.69H367.4V72.3H358.17ZM460.23,70.69H469.45V72.3H460.23ZM358.17,72H361.79V73.61H358.17ZM362.66,72H368.52V73.61H362.66ZM454.62,72H456V73.61H454.62ZM459.11,72H470.58V73.61H459.11ZM474.81,72H476.18V73.61H474.81ZM357.05,73.31H361.79V74.92H357.05ZM362.66,73.31H370.76V74.92H362.66ZM386.21,73.31H387.58V74.92H386.21ZM427.71,73.31H429.08V74.92H427.71ZM431.07,73.31H433.57V74.92H431.07ZM444.53,73.31H471.7V74.92H444.53ZM472.57,73.31H479.55V74.92H472.57ZM335.74,74.62H338.24V76.24H335.74ZM355.93,74.62H361.79V76.24H355.93ZM362.66,74.62H371.88V76.24H362.66ZM379.48,74.62H388.7V76.24H379.48ZM425.47,74.62H436.93V76.24H425.47ZM438.92,74.62H440.3V76.24H438.92ZM441.17,74.62H443.66V76.24H441.17ZM444.53,74.62H471.7V76.24H444.53ZM473.69,74.62H478.43V76.24H473.69ZM335.74,75.94H339.36V77.55H335.74ZM343.59,75.94H348.33V77.55H343.59ZM350.32,75.94H353.94V77.55H350.32ZM355.93,75.94H359.55V77.55H355.93ZM361.54,75.94H368.52V77.55H361.54ZM376.12,75.94H377.49V77.55H376.12ZM381.73,75.94H388.7V77.55H381.73ZM395.18,75.94H397.68V77.55H395.18ZM431.07,75.94H436.93V77.55H431.07ZM442.29,75.94H452.63V77.55H442.29ZM454.62,75.94H477.31V77.55H454.62ZM478.18,75.94H479.55V77.55H478.18ZM484.91,75.94H489.64V77.55H484.91ZM490.51,75.94H493.01V77.55H490.51ZM493.88,75.94H495.25V77.55H493.88ZM337.99,77.25H339.36V78.86H337.99ZM343.59,77.25H349.45V78.86H343.59ZM350.32,77.25H353.94V78.86H350.32ZM355.93,77.25H359.55V78.86H355.93ZM367.15,77.25H368.52V78.86H367.15ZM376.12,77.25H377.49V78.86H376.12ZM381.73,77.25H384.22V78.86H381.73ZM386.21,77.25H388.7V78.86H386.21ZM396.31,77.25H399.92V78.86H396.31ZM432.19,77.25H436.93V78.86H432.19ZM442.29,77.25H450.39V78.86H442.29ZM454.62,77.25H476.18V78.86H454.62ZM478.18,77.25H479.55V78.86H478.18ZM486.03,77.25H489.64V78.86H486.03ZM490.51,77.25H495.25V78.86H490.51ZM343.59,78.56H349.45V80.17H343.59ZM350.32,78.56H361.79V80.17H350.32ZM376.12,78.56H377.49V80.17H376.12ZM380.6,78.56H388.7V80.17H380.6ZM396.31,78.56H399.92V80.17H396.31ZM417.61,78.56H420.11V80.17H417.61ZM429.95,78.56H435.81V80.17H429.95ZM441.17,78.56H451.51V80.17H441.17ZM453.5,78.56H454.88V80.17H453.5ZM459.11,78.56H470.58V80.17H459.11ZM471.45,78.56H476.18V80.17H471.45ZM478.18,78.56H479.55V80.17H478.18ZM487.15,78.56H495.25V80.17H487.15ZM333.5,79.88H334.87V81.49H333.5ZM343.59,79.88H355.06V81.49H343.59ZM371.63,79.88H374.12V81.49H371.63ZM375,79.88H377.49V81.49H375ZM380.6,79.88H387.58V81.49H380.6ZM389.58,79.88H390.95V81.49H389.58ZM394.06,79.88H398.8V81.49H394.06ZM401.91,79.88H403.28V81.49H401.91ZM410.89,79.88H412.26V81.49H410.89ZM415.37,79.88H416.74V81.49H415.37ZM431.07,79.88H433.57V81.49H431.07ZM434.44,79.88H435.81V81.49H434.44ZM443.41,79.88H456V81.49H443.41ZM459.11,79.88H461.6V81.49H459.11ZM463.6,79.88H468.33V81.49H463.6ZM469.2,79.88H470.58V81.49H469.2ZM487.15,79.88H495.25V81.49H487.15ZM333.5,81.19H335.99V82.8H333.5ZM343.59,81.19H355.06V82.8H343.59ZM363.78,81.19H367.4V82.8H363.78ZM371.63,81.19H378.61V82.8H371.63ZM379.48,81.19H383.1V82.8H379.48ZM383.97,81.19H385.34V82.8H383.97ZM388.45,81.19H392.07V82.8H388.45ZM392.94,81.19H398.8V82.8H392.94ZM400.79,81.19H404.41V82.8H400.79ZM407.52,81.19H410.01V82.8H407.52ZM410.89,81.19H413.38V82.8H410.89ZM415.37,81.19H416.74V82.8H415.37ZM418.74,81.19H421.23V82.8H418.74ZM422.1,81.19H424.59V82.8H422.1ZM431.07,81.19H433.57V82.8H431.07ZM435.56,81.19H438.05V82.8H435.56ZM441.17,81.19H442.54V82.8H441.17ZM443.41,81.19H454.88V82.8H443.41ZM459.11,81.19H461.6V82.8H459.11ZM469.2,81.19H470.58V82.8H469.2ZM472.57,81.19H473.94V82.8H472.57ZM478.18,81.19H480.67V82.8H478.18ZM487.15,81.19H488.52V82.8H487.15ZM490.51,81.19H495.25V82.8H490.51ZM333.5,82.5H334.87V84.11H333.5ZM344.72,82.5H349.45V84.11H344.72ZM350.32,82.5H356.18V84.11H350.32ZM363.78,82.5H368.52V84.11H363.78ZM370.51,82.5H392.07V84.11H370.51ZM392.94,82.5H395.43V84.11H392.94ZM399.67,82.5H404.41V84.11H399.67ZM407.52,82.5H412.26V84.11H407.52ZM413.13,82.5H414.5V84.11H413.13ZM417.61,82.5H421.23V84.11H417.61ZM423.22,82.5H424.59V84.11H423.22ZM426.59,82.5H433.57V84.11H426.59ZM434.44,82.5H439.17V84.11H434.44ZM440.05,82.5H442.54V84.11H440.05ZM444.53,82.5H452.63V84.11H444.53ZM460.23,82.5H463.85V84.11H460.23ZM468.08,82.5H470.58V84.11H468.08ZM477.06,82.5H480.67V84.11H477.06ZM481.54,82.5H482.91V84.11H481.54ZM493.88,82.5H495.25V84.11H493.88ZM333.5,83.81H334.87V85.42H333.5ZM336.86,83.81H338.24V85.42H336.86ZM344.72,83.81H348.33V85.42H344.72ZM350.32,83.81H356.18V85.42H350.32ZM363.78,83.81H379.73V85.42H363.78ZM380.6,83.81H395.43V85.42H380.6ZM397.43,83.81H403.28V85.42H397.43ZM407.52,83.81H411.14V85.42H407.52ZM417.61,83.81H418.99V85.42H417.61ZM419.86,83.81H421.23V85.42H419.86ZM422.1,83.81H433.57V85.42H422.1ZM434.44,83.81H435.81V85.42H434.44ZM436.68,83.81H441.42V85.42H436.68ZM442.29,83.81H452.63V85.42H442.29ZM460.23,83.81H463.85V85.42H460.23ZM469.2,83.81H472.82V85.42H469.2ZM477.06,83.81H480.67V85.42H477.06ZM493.88,83.81H495.25V85.42H493.88ZM333.5,85.12H334.87V86.74H333.5ZM340.23,85.12H342.72V86.74H340.23ZM351.44,85.12H359.55V86.74H351.44ZM363.78,85.12H367.4V86.74H363.78ZM368.27,85.12H375.25V86.74H368.27ZM377.24,85.12H379.73V86.74H377.24ZM381.73,85.12H393.19V86.74H381.73ZM396.31,85.12H404.41V86.74H396.31ZM407.52,85.12H411.14V86.74H407.52ZM420.98,85.12H433.57V86.74H420.98ZM436.68,85.12H439.17V86.74H436.68ZM441.17,85.12H453.75V86.74H441.17ZM455.75,85.12H458.24V86.74H455.75ZM460.23,85.12H464.97V86.74H460.23ZM469.2,85.12H478.43V86.74H469.2ZM479.3,85.12H481.79V86.74H479.3ZM489.39,85.12H493.01V86.74H489.39ZM493.88,85.12H495.25V86.74H493.88ZM333.5,86.44H334.87V88.05H333.5ZM340.23,86.44H342.72V88.05H340.23ZM350.32,86.44H359.55V88.05H350.32ZM362.66,86.44H371.88V88.05H362.66ZM377.24,86.44H380.85V88.05H377.24ZM381.73,86.44H394.31V88.05H381.73ZM395.18,86.44H405.53V88.05H395.18ZM417.61,86.44H433.57V88.05H417.61ZM435.56,86.44H453.75V88.05H435.56ZM455.75,86.44H457.12V88.05H455.75ZM457.99,86.44H462.73V88.05H457.99ZM464.72,86.44H477.31V88.05H464.72ZM488.27,86.44H495.25V88.05H488.27ZM333.5,87.75H334.87V89.36H333.5ZM353.69,87.75H358.42V89.36H353.69ZM363.78,87.75H371.88V89.36H363.78ZM379.48,87.75H380.85V89.36H379.48ZM382.85,87.75H394.31V89.36H382.85ZM395.18,87.75H404.41V89.36H395.18ZM418.74,87.75H433.57V89.36H418.74ZM435.56,87.75H441.42V89.36H435.56ZM442.29,87.75H445.9V89.36H442.29ZM449.02,87.75H452.63V89.36H449.02ZM460.23,87.75H461.6V89.36H460.23ZM465.84,87.75H476.18V89.36H465.84ZM489.39,87.75H493.01V89.36H489.39ZM493.88,87.75H495.25V89.36H493.88ZM353.69,89.06H356.18V90.67H353.69ZM358.17,89.06H361.79V90.67H358.17ZM363.78,89.06H368.52V90.67H363.78ZM379.48,89.06H406.65V90.67H379.48ZM422.1,89.06H433.57V90.67H422.1ZM436.68,89.06H438.05V90.67H436.68ZM450.14,89.06H453.75V90.67H450.14ZM468.08,89.06H471.7V90.67H468.08ZM472.57,89.06H473.94V90.67H472.57ZM489.39,89.06H495.25V90.67H489.39ZM352.57,90.38H353.94V91.99H352.57ZM363.78,90.38H368.52V91.99H363.78ZM376.12,90.38H402.16V91.99H376.12ZM403.03,90.38H407.77V91.99H403.03ZM423.22,90.38H433.57V91.99H423.22ZM450.14,90.38H451.51V91.99H450.14ZM469.2,90.38H472.82V91.99H469.2ZM492.76,90.38H495.25V91.99H492.76ZM342.47,91.69H346.09V93.3H342.47ZM363.78,91.69H368.52V93.3H363.78ZM376.12,91.69H384.22V93.3H376.12ZM386.21,91.69H401.04V93.3H386.21ZM403.03,91.69H404.41V93.3H403.03ZM405.28,91.69H407.77V93.3H405.28ZM423.22,91.69H432.44V93.3H423.22ZM433.32,91.69H434.69V93.3H433.32ZM450.14,91.69H451.51V93.3H450.14ZM469.2,91.69H472.82V93.3H469.2ZM493.88,91.69H495.25V93.3H493.88ZM364.9,93H367.4V94.61H364.9ZM377.24,93H378.61V94.61H377.24ZM382.85,93H384.22V94.61H382.85ZM388.45,93H401.04V94.61H388.45ZM403.03,93H407.77V94.61H403.03ZM422.1,93H433.57V94.61H422.1ZM437.8,93H440.3V94.61H437.8ZM345.84,94.31H347.21V95.92H345.84ZM349.2,94.31H351.69V95.92H349.2ZM363.78,94.31H367.4V95.92H363.78ZM376.12,94.31H378.61V95.92H376.12ZM389.58,94.31H397.68V95.92H389.58ZM399.67,94.31H401.04V95.92H399.67ZM401.91,94.31H404.41V95.92H401.91ZM406.4,94.31H407.77V95.92H406.4ZM417.61,94.31H421.23V95.92H417.61ZM423.22,94.31H424.59V95.92H423.22ZM425.47,94.31H433.57V95.92H425.47ZM436.68,94.31H440.3V95.92H436.68ZM336.86,95.62H338.24V97.24H336.86ZM340.23,95.62H342.72V97.24H340.23ZM345.84,95.62H352.82V97.24H345.84ZM363.78,95.62H367.4V97.24H363.78ZM376.12,95.62H379.73V97.24H376.12ZM388.45,95.62H390.95V97.24H388.45ZM391.82,95.62H395.43V97.24H391.82ZM416.49,95.62H422.35V97.24H416.49ZM425.47,95.62H427.96V97.24H425.47ZM428.83,95.62H433.57V97.24H428.83ZM435.56,95.62H440.3V97.24H435.56ZM442.29,95.62H444.78V97.24H442.29ZM447.9,95.62H449.27V97.24H447.9ZM450.14,95.62H453.75V97.24H450.14ZM492.76,95.62H494.13V97.24H492.76ZM337.99,96.94H339.36V98.55H337.99ZM346.96,96.94H353.94V98.55H346.96ZM388.45,96.94H389.83V98.55H388.45ZM391.82,96.94H396.56V98.55H391.82ZM416.49,96.94H422.35V98.55H416.49ZM427.71,96.94H434.69V98.55H427.71ZM436.68,96.94H440.3V98.55H436.68ZM442.29,96.94H444.78V98.55H442.29ZM447.9,96.94H449.27V98.55H447.9ZM451.26,96.94H454.88V98.55H451.26ZM489.39,96.94H491.89V98.55H489.39ZM346.96,98.25H351.69V99.86H346.96ZM352.57,98.25H355.06V99.86H352.57ZM364.9,98.25H366.27V99.86H364.9ZM394.06,98.25H396.56V99.86H394.06ZM415.37,98.25H421.23V99.86H415.37ZM427.71,98.25H430.2V99.86H427.71ZM432.19,98.25H434.69V99.86H432.19ZM451.26,98.25H453.75V99.86H451.26ZM489.39,98.25H491.89V99.86H489.39ZM337.99,99.56H339.36V101.17H337.99ZM363.78,99.56H367.4V101.17H363.78ZM414.25,99.56H415.62V101.17H414.25ZM427.71,99.56H429.08V101.17H427.71ZM444.53,99.56H447.02V101.17H444.53ZM364.9,100.88H366.27V102.49H364.9ZM445.65,100.88H447.02V102.49H445.65ZM478.18,100.88H479.55V102.49H478.18ZM415.37,102.19H416.74V103.8H415.37ZM477.06,102.19H480.67V103.8H477.06ZM469.2,103.5H471.7V105.11H469.2ZM478.18,103.5H479.55V105.11H478.18ZM469.2,104.81H471.7V106.42H469.2ZM472.57,104.81H473.94V106.42H472.57ZM474.81,104.81H476.18V106.42H474.81ZM472.57,106.12H473.94V107.74H472.57ZM487.15,106.12H488.52V107.74H487.15ZM465.84,110.06H467.21V111.67H465.84Z" fill="#eba49c"/><path d="M395.18,49.69H397.68V51.3H395.18ZM394.06,51H397.68V52.61H394.06ZM394.06,52.31H398.8V53.92H394.06ZM394.06,53.62H397.68V55.24H394.06ZM358.17,62.81H361.79V64.42H358.17ZM357.05,64.12H362.91V65.74H357.05ZM412.01,64.12H416.74V65.74H412.01ZM357.05,65.44H359.55V67.05H357.05ZM360.42,65.44H364.03V67.05H360.42ZM412.01,65.44H416.74V67.05H412.01ZM465.84,65.44H467.21V67.05H465.84ZM340.23,66.75H342.72V68.36H340.23ZM348.08,66.75H351.69V68.36H348.08ZM355.93,66.75H359.55V68.36H355.93ZM361.54,66.75H370.76V68.36H361.54ZM406.4,66.75H407.77V68.36H406.4ZM408.64,66.75H423.47V68.36H408.64ZM434.44,66.75H441.42V68.36H434.44ZM454.62,66.75H456V68.36H454.62ZM457.99,66.75H469.45V68.36H457.99ZM472.57,66.75H476.18V68.36H472.57ZM486.03,66.75H490.76V68.36H486.03ZM336.86,68.06H343.84V69.67H336.86ZM348.08,68.06H359.55V69.67H348.08ZM361.54,68.06H380.85V69.67H361.54ZM382.85,68.06H397.68V69.67H382.85ZM399.67,68.06H401.04V69.67H399.67ZM403.03,68.06H427.96V69.67H403.03ZM432.19,68.06H481.79V69.67H432.19ZM482.66,68.06H493.01V69.67H482.66ZM493.88,68.06H495.25V69.67H493.88ZM333.5,69.38H359.55V70.99H333.5ZM362.66,69.38H461.6V70.99H362.66ZM466.96,69.38H495.25V70.99H466.96ZM333.5,70.69H358.42V72.3H333.5ZM367.15,70.69H460.48V72.3H367.15ZM469.2,70.69H495.25V72.3H469.2ZM333.5,72H358.42V73.61H333.5ZM361.54,72H362.91V73.61H361.54ZM368.27,72H454.88V73.61H368.27ZM455.75,72H459.36V73.61H455.75ZM470.33,72H475.06V73.61H470.33ZM475.93,72H495.25V73.61H475.93ZM333.5,73.31H357.3V74.92H333.5ZM361.54,73.31H362.91V74.92H361.54ZM370.51,73.31H386.46V74.92H370.51ZM387.33,73.31H427.96V74.92H387.33ZM428.83,73.31H431.32V74.92H428.83ZM433.32,73.31H444.78V74.92H433.32ZM471.45,73.31H472.82V74.92H471.45ZM479.3,73.31H495.25V74.92H479.3ZM333.5,74.62H335.99V76.24H333.5ZM337.99,74.62H356.18V76.24H337.99ZM361.54,74.62H362.91V76.24H361.54ZM371.63,74.62H379.73V76.24H371.63ZM388.45,74.62H425.72V76.24H388.45ZM436.68,74.62H439.17V76.24H436.68ZM440.05,74.62H441.42V76.24H440.05ZM443.41,74.62H444.78V76.24H443.41ZM471.45,74.62H473.94V76.24H471.45ZM478.18,74.62H495.25V76.24H478.18ZM333.5,75.94H335.99V77.55H333.5ZM339.11,75.94H343.84V77.55H339.11ZM348.08,75.94H350.57V77.55H348.08ZM353.69,75.94H356.18V77.55H353.69ZM359.3,75.94H361.79V77.55H359.3ZM368.27,75.94H376.37V77.55H368.27ZM377.24,75.94H381.98V77.55H377.24ZM388.45,75.94H395.43V77.55H388.45ZM397.43,75.94H431.32V77.55H397.43ZM436.68,75.94H442.54V77.55H436.68ZM452.38,75.94H454.88V77.55H452.38ZM477.06,75.94H478.43V77.55H477.06ZM479.3,75.94H485.16V77.55H479.3ZM489.39,75.94H490.76V77.55H489.39ZM492.76,75.94H494.13V77.55H492.76ZM333.5,77.25H338.24V78.86H333.5ZM339.11,77.25H343.84V78.86H339.11ZM349.2,77.25H350.57V78.86H349.2ZM353.69,77.25H356.18V78.86H353.69ZM359.3,77.25H367.4V78.86H359.3ZM368.27,77.25H376.37V78.86H368.27ZM377.24,77.25H381.98V78.86H377.24ZM383.97,77.25H386.46V78.86H383.97ZM388.45,77.25H396.56V78.86H388.45ZM399.67,77.25H432.44V78.86H399.67ZM436.68,77.25H442.54V78.86H436.68ZM450.14,77.25H454.88V78.86H450.14ZM475.93,77.25H478.43V78.86H475.93ZM479.3,77.25H486.28V78.86H479.3ZM489.39,77.25H490.76V78.86H489.39ZM333.5,78.56H343.84V80.17H333.5ZM349.2,78.56H350.57V80.17H349.2ZM361.54,78.56H376.37V80.17H361.54ZM377.24,78.56H380.85V80.17H377.24ZM388.45,78.56H396.56V80.17H388.45ZM399.67,78.56H417.86V80.17H399.67ZM419.86,78.56H430.2V80.17H419.86ZM435.56,78.56H441.42V80.17H435.56ZM451.26,78.56H453.75V80.17H451.26ZM454.62,78.56H459.36V80.17H454.62ZM470.33,78.56H471.7V80.17H470.33ZM475.93,78.56H478.43V80.17H475.93ZM479.3,78.56H487.4V80.17H479.3ZM334.62,79.88H343.84V81.49H334.62ZM354.81,79.88H371.88V81.49H354.81ZM373.88,79.88H375.25V81.49H373.88ZM377.24,79.88H380.85V81.49H377.24ZM387.33,79.88H389.83V81.49H387.33ZM390.7,79.88H394.31V81.49H390.7ZM398.55,79.88H402.16V81.49H398.55ZM403.03,79.88H411.14V81.49H403.03ZM412.01,79.88H415.62V81.49H412.01ZM416.49,79.88H431.32V81.49H416.49ZM433.32,79.88H434.69V81.49H433.32ZM435.56,79.88H443.66V81.49H435.56ZM455.75,79.88H459.36V81.49H455.75ZM461.35,79.88H463.85V81.49H461.35ZM468.08,79.88H469.45V81.49H468.08ZM470.33,79.88H487.4V81.49H470.33ZM335.74,81.19H343.84V82.8H335.74ZM354.81,81.19H364.03V82.8H354.81ZM367.15,81.19H371.88V82.8H367.15ZM378.36,81.19H379.73V82.8H378.36ZM382.85,81.19H384.22V82.8H382.85ZM385.09,81.19H388.7V82.8H385.09ZM391.82,81.19H393.19V82.8H391.82ZM398.55,81.19H401.04V82.8H398.55ZM404.16,81.19H407.77V82.8H404.16ZM409.76,81.19H411.14V82.8H409.76ZM413.13,81.19H415.62V82.8H413.13ZM416.49,81.19H418.99V82.8H416.49ZM420.98,81.19H422.35V82.8H420.98ZM424.34,81.19H431.32V82.8H424.34ZM433.32,81.19H435.81V82.8H433.32ZM437.8,81.19H441.42V82.8H437.8ZM442.29,81.19H443.66V82.8H442.29ZM454.62,81.19H459.36V82.8H454.62ZM461.35,81.19H469.45V82.8H461.35ZM470.33,81.19H472.82V82.8H470.33ZM473.69,81.19H478.43V82.8H473.69ZM480.42,81.19H487.4V82.8H480.42ZM488.27,81.19H490.76V82.8H488.27ZM334.62,82.5H344.97V84.11H334.62ZM349.2,82.5H350.57V84.11H349.2ZM355.93,82.5H364.03V84.11H355.93ZM368.27,82.5H370.76V84.11H368.27ZM391.82,82.5H393.19V84.11H391.82ZM395.18,82.5H399.92V84.11H395.18ZM404.16,82.5H407.77V84.11H404.16ZM412.01,82.5H413.38V84.11H412.01ZM414.25,82.5H417.86V84.11H414.25ZM420.98,82.5H423.47V84.11H420.98ZM424.34,82.5H426.84V84.11H424.34ZM433.32,82.5H434.69V84.11H433.32ZM438.92,82.5H440.3V84.11H438.92ZM442.29,82.5H444.78V84.11H442.29ZM452.38,82.5H460.48V84.11H452.38ZM463.6,82.5H468.33V84.11H463.6ZM470.33,82.5H477.31V84.11H470.33ZM480.42,82.5H481.79V84.11H480.42ZM482.66,82.5H494.13V84.11H482.66ZM334.62,83.81H337.11V85.42H334.62ZM337.99,83.81H344.97V85.42H337.99ZM348.08,83.81H350.57V85.42H348.08ZM355.93,83.81H364.03V85.42H355.93ZM379.48,83.81H380.85V85.42H379.48ZM395.18,83.81H397.68V85.42H395.18ZM403.03,83.81H407.77V85.42H403.03ZM410.89,83.81H417.86V85.42H410.89ZM418.74,83.81H420.11V85.42H418.74ZM420.98,83.81H422.35V85.42H420.98ZM433.32,83.81H434.69V85.42H433.32ZM435.56,83.81H436.93V85.42H435.56ZM441.17,83.81H442.54V85.42H441.17ZM452.38,83.81H460.48V85.42H452.38ZM463.6,83.81H469.45V85.42H463.6ZM472.57,83.81H477.31V85.42H472.57ZM480.42,83.81H494.13V85.42H480.42ZM334.62,85.12H340.48V86.74H334.62ZM342.47,85.12H351.69V86.74H342.47ZM359.3,85.12H364.03V86.74H359.3ZM367.15,85.12H368.52V86.74H367.15ZM375,85.12H377.49V86.74H375ZM379.48,85.12H381.98V86.74H379.48ZM392.94,85.12H396.56V86.74H392.94ZM404.16,85.12H407.77V86.74H404.16ZM410.89,85.12H421.23V86.74H410.89ZM433.32,85.12H436.93V86.74H433.32ZM438.92,85.12H441.42V86.74H438.92ZM453.5,85.12H456V86.74H453.5ZM457.99,85.12H460.48V86.74H457.99ZM464.72,85.12H469.45V86.74H464.72ZM478.18,85.12H479.55V86.74H478.18ZM481.54,85.12H489.64V86.74H481.54ZM492.76,85.12H494.13V86.74H492.76ZM334.62,86.44H340.48V88.05H334.62ZM342.47,86.44H350.57V88.05H342.47ZM359.3,86.44H362.91V88.05H359.3ZM371.63,86.44H377.49V88.05H371.63ZM380.6,86.44H381.98V88.05H380.6ZM394.06,86.44H395.43V88.05H394.06ZM405.28,86.44H417.86V88.05H405.28ZM433.32,86.44H435.81V88.05H433.32ZM453.5,86.44H456V88.05H453.5ZM456.87,86.44H458.24V88.05H456.87ZM462.48,86.44H464.97V88.05H462.48ZM477.06,86.44H488.52V88.05H477.06ZM334.62,87.75H353.94V89.36H334.62ZM358.17,87.75H364.03V89.36H358.17ZM371.63,87.75H379.73V89.36H371.63ZM380.6,87.75H383.1V89.36H380.6ZM394.06,87.75H395.43V89.36H394.06ZM404.16,87.75H418.99V89.36H404.16ZM433.32,87.75H435.81V89.36H433.32ZM441.17,87.75H442.54V89.36H441.17ZM445.65,87.75H449.27V89.36H445.65ZM452.38,87.75H460.48V89.36H452.38ZM461.35,87.75H466.09V89.36H461.35ZM475.93,87.75H489.64V89.36H475.93ZM492.76,87.75H494.13V89.36H492.76ZM333.5,89.06H353.94V90.67H333.5ZM355.93,89.06H358.42V90.67H355.93ZM361.54,89.06H364.03V90.67H361.54ZM368.27,89.06H379.73V90.67H368.27ZM406.4,89.06H422.35V90.67H406.4ZM433.32,89.06H436.93V90.67H433.32ZM437.8,89.06H450.39V90.67H437.8ZM453.5,89.06H468.33V90.67H453.5ZM471.45,89.06H472.82V90.67H471.45ZM473.69,89.06H489.64V90.67H473.69ZM333.5,90.38H352.82V91.99H333.5ZM353.69,90.38H364.03V91.99H353.69ZM368.27,90.38H376.37V91.99H368.27ZM401.91,90.38H403.28V91.99H401.91ZM407.52,90.38H423.47V91.99H407.52ZM433.32,90.38H450.39V91.99H433.32ZM451.26,90.38H469.45V91.99H451.26ZM472.57,90.38H493.01V91.99H472.57ZM333.5,91.69H342.72V93.3H333.5ZM345.84,91.69H364.03V93.3H345.84ZM368.27,91.69H376.37V93.3H368.27ZM383.97,91.69H386.46V93.3H383.97ZM400.79,91.69H403.28V93.3H400.79ZM404.16,91.69H405.53V93.3H404.16ZM407.52,91.69H423.47V93.3H407.52ZM432.19,91.69H433.57V93.3H432.19ZM434.44,91.69H450.39V93.3H434.44ZM451.26,91.69H469.45V93.3H451.26ZM472.57,91.69H494.13V93.3H472.57ZM333.5,93H365.15V94.61H333.5ZM367.15,93H377.49V94.61H367.15ZM378.36,93H383.1V94.61H378.36ZM383.97,93H388.7V94.61H383.97ZM400.79,93H403.28V94.61H400.79ZM407.52,93H422.35V94.61H407.52ZM433.32,93H438.05V94.61H433.32ZM440.05,93H495.25V94.61H440.05ZM333.5,94.31H346.09V95.92H333.5ZM346.96,94.31H349.45V95.92H346.96ZM351.44,94.31H364.03V95.92H351.44ZM367.15,94.31H376.37V95.92H367.15ZM378.36,94.31H389.83V95.92H378.36ZM397.43,94.31H399.92V95.92H397.43ZM400.79,94.31H402.16V95.92H400.79ZM404.16,94.31H406.65V95.92H404.16ZM407.52,94.31H417.86V95.92H407.52ZM420.98,94.31H423.47V95.92H420.98ZM424.34,94.31H425.72V95.92H424.34ZM433.32,94.31H436.93V95.92H433.32ZM440.05,94.31H495.25V95.92H440.05ZM333.5,95.62H337.11V97.24H333.5ZM337.99,95.62H340.48V97.24H337.99ZM342.47,95.62H346.09V97.24H342.47ZM352.57,95.62H364.03V97.24H352.57ZM367.15,95.62H376.37V97.24H367.15ZM379.48,95.62H388.7V97.24H379.48ZM390.7,95.62H392.07V97.24H390.7ZM395.18,95.62H416.74V97.24H395.18ZM422.1,95.62H425.72V97.24H422.1ZM427.71,95.62H429.08V97.24H427.71ZM433.32,95.62H435.81V97.24H433.32ZM440.05,95.62H442.54V97.24H440.05ZM444.53,95.62H448.15V97.24H444.53ZM449.02,95.62H450.39V97.24H449.02ZM453.5,95.62H493.01V97.24H453.5ZM493.88,95.62H495.25V97.24H493.88ZM333.5,96.94H338.24V98.55H333.5ZM339.11,96.94H347.21V98.55H339.11ZM353.69,96.94H388.7V98.55H353.69ZM389.58,96.94H392.07V98.55H389.58ZM396.31,96.94H416.74V98.55H396.31ZM422.1,96.94H427.96V98.55H422.1ZM434.44,96.94H436.93V98.55H434.44ZM440.05,96.94H442.54V98.55H440.05ZM444.53,96.94H448.15V98.55H444.53ZM449.02,96.94H451.51V98.55H449.02ZM454.62,96.94H489.64V98.55H454.62ZM491.64,96.94H495.25V98.55H491.64ZM333.5,98.25H347.21V99.86H333.5ZM351.44,98.25H352.82V99.86H351.44ZM354.81,98.25H365.15V99.86H354.81ZM366.02,98.25H394.31V99.86H366.02ZM396.31,98.25H415.62V99.86H396.31ZM420.98,98.25H427.96V99.86H420.98ZM429.95,98.25H432.44V99.86H429.95ZM434.44,98.25H451.51V99.86H434.44ZM453.5,98.25H489.64V99.86H453.5ZM491.64,98.25H495.25V99.86H491.64ZM333.5,99.56H338.24V101.17H333.5ZM339.11,99.56H364.03V101.17H339.11ZM367.15,99.56H414.5V101.17H367.15ZM415.37,99.56H427.96V101.17H415.37ZM428.83,99.56H444.78V101.17H428.83ZM446.77,99.56H495.25V101.17H446.77ZM333.5,100.88H365.15V102.49H333.5ZM366.02,100.88H445.9V102.49H366.02ZM446.77,100.88H478.43V102.49H446.77ZM479.3,100.88H495.25V102.49H479.3ZM333.5,102.19H415.62V103.8H333.5ZM416.49,102.19H477.31V103.8H416.49ZM480.42,102.19H495.25V103.8H480.42ZM333.5,103.5H469.45V105.11H333.5ZM471.45,103.5H478.43V105.11H471.45ZM479.3,103.5H495.25V105.11H479.3ZM333.5,104.81H469.45V106.42H333.5ZM471.45,104.81H472.82V106.42H471.45ZM473.69,104.81H475.06V106.42H473.69ZM475.93,104.81H495.25V106.42H475.93ZM333.5,106.12H472.82V107.74H333.5ZM473.69,106.12H487.4V107.74H473.69ZM488.27,106.12H495.25V107.74H488.27ZM333.5,107.44H495.25V109.05H333.5ZM333.5,108.75H495.25V110.36H333.5ZM333.5,110.06H466.09V111.67H333.5ZM466.96,110.06H495.25V111.67H466.96ZM333.5,111.38H495.25V112.99H333.5ZM333.5,112.69H495.25V114.3H333.5ZM333.5,114H495.25V115.61H333.5ZM333.5,115.31H495.25V116.92H333.5ZM333.5,116.62H495.25V118.24H333.5ZM333.5,117.94H495.25V119.55H333.5Z" fill="#dc7262"/><path d="M395.18,45.75H398.8V47.36H395.18ZM392.94,47.06H399.92V48.67H392.94ZM390.7,48.38H401.04V49.99H390.7ZM390.7,49.69H395.43V51.3H390.7ZM397.43,49.69H402.16V51.3H397.43ZM389.58,51H394.31V52.61H389.58ZM397.43,51H402.16V52.61H397.43ZM389.58,52.31H394.31V53.92H389.58ZM398.55,52.31H403.28V53.92H398.55ZM389.58,53.62H394.31V55.24H389.58ZM397.43,53.62H403.28V55.24H397.43ZM483.78,53.62H485.16V55.24H483.78ZM390.7,54.94H403.28V56.55H390.7ZM482.66,54.94H486.28V56.55H482.66ZM390.7,56.25H404.41V57.86H390.7ZM483.78,56.25H485.16V57.86H483.78ZM391.82,57.56H403.28V59.17H391.82ZM354.81,58.88H360.67V60.49H354.81ZM391.82,58.88H403.28V60.49H391.82ZM412.01,58.88H415.62V60.49H412.01ZM333.5,60.19H335.99V61.8H333.5ZM353.69,60.19H362.91V61.8H353.69ZM391.82,60.19H410.01V61.8H391.82ZM410.89,60.19H417.86V61.8H410.89ZM461.35,60.19H463.85V61.8H461.35ZM471.45,60.19H475.06V61.8H471.45ZM481.54,60.19H489.64V61.8H481.54ZM492.76,60.19H495.25V61.8H492.76ZM333.5,61.5H340.48V63.11H333.5ZM344.72,61.5H365.15V63.11H344.72ZM391.82,61.5H422.35V63.11H391.82ZM431.07,61.5H441.42V63.11H431.07ZM442.29,61.5H450.39V63.11H442.29ZM452.38,61.5H457.12V63.11H452.38ZM457.99,61.5H471.7V63.11H457.99ZM472.57,61.5H495.25V63.11H472.57ZM333.5,62.81H358.42V64.42H333.5ZM361.54,62.81H369.64V64.42H361.54ZM385.09,62.81H495.25V64.42H385.09ZM333.5,64.12H357.3V65.74H333.5ZM362.66,64.12H373V65.74H362.66ZM380.6,64.12H412.26V65.74H380.6ZM416.49,64.12H495.25V65.74H416.49ZM333.5,65.44H357.3V67.05H333.5ZM363.78,65.44H412.26V67.05H363.78ZM416.49,65.44H466.09V67.05H416.49ZM466.96,65.44H495.25V67.05H466.96ZM333.5,66.75H340.48V68.36H333.5ZM342.47,66.75H348.33V68.36H342.47ZM351.44,66.75H356.18V68.36H351.44ZM370.51,66.75H406.65V68.36H370.51ZM407.52,66.75H408.89V68.36H407.52ZM423.22,66.75H434.69V68.36H423.22ZM441.17,66.75H454.88V68.36H441.17ZM455.75,66.75H458.24V68.36H455.75ZM469.2,66.75H472.82V68.36H469.2ZM475.93,66.75H486.28V68.36H475.93ZM490.51,66.75H495.25V68.36H490.51ZM333.5,68.06H337.11V69.67H333.5ZM343.59,68.06H348.33V69.67H343.59ZM380.6,68.06H383.1V69.67H380.6ZM397.43,68.06H399.92V69.67H397.43ZM400.79,68.06H403.28V69.67H400.79ZM427.71,68.06H432.44V69.67H427.71ZM481.54,68.06H482.91V69.67H481.54ZM492.76,68.06H494.13V69.67H492.76Z" fill="#c64a3c"/><path d="M392.94,41.81H395.43V43.42H392.94ZM391.82,43.12H402.16V44.74H391.82ZM389.58,44.44H403.28V46.05H389.58ZM386.21,45.75H395.43V47.36H386.21ZM398.55,45.75H404.41V47.36H398.55ZM386.21,47.06H393.19V48.67H386.21ZM399.67,47.06H405.53V48.67H399.67ZM386.21,48.38H390.95V49.99H386.21ZM400.79,48.38H406.65V49.99H400.79ZM386.21,49.69H390.95V51.3H386.21ZM401.91,49.69H407.77V51.3H401.91ZM480.42,49.69H488.52V51.3H480.42ZM385.09,51H389.83V52.61H385.09ZM401.91,51H408.89V52.61H401.91ZM479.3,51H490.76V52.61H479.3ZM386.21,52.31H389.83V53.92H386.21ZM403.03,52.31H410.01V53.92H403.03ZM417.61,52.31H424.59V53.92H417.61ZM474.81,52.31H493.01V53.92H474.81ZM336.86,53.62H338.24V55.24H336.86ZM352.57,53.62H355.06V55.24H352.57ZM358.17,53.62H359.55V55.24H358.17ZM386.21,53.62H389.83V55.24H386.21ZM403.03,53.62H412.26V55.24H403.03ZM416.49,53.62H427.96V55.24H416.49ZM455.75,53.62H457.12V55.24H455.75ZM472.57,53.62H484.03V55.24H472.57ZM484.91,53.62H494.13V55.24H484.91ZM333.5,54.94H341.6V56.55H333.5ZM349.2,54.94H366.27V56.55H349.2ZM386.21,54.94H390.95V56.55H386.21ZM403.03,54.94H429.08V56.55H403.03ZM454.62,54.94H460.48V56.55H454.62ZM463.6,54.94H466.09V56.55H463.6ZM466.96,54.94H469.45V56.55H466.96ZM471.45,54.94H482.91V56.55H471.45ZM486.03,54.94H495.25V56.55H486.03ZM333.5,56.25H367.4V57.86H333.5ZM385.09,56.25H390.95V57.86H385.09ZM404.16,56.25H440.3V57.86H404.16ZM451.26,56.25H484.03V57.86H451.26ZM484.91,56.25H495.25V57.86H484.91ZM333.5,57.56H370.76V59.17H333.5ZM385.09,57.56H392.07V59.17H385.09ZM403.03,57.56H449.27V59.17H403.03ZM450.14,57.56H495.25V59.17H450.14ZM333.5,58.88H355.06V60.49H333.5ZM360.42,58.88H370.76V60.49H360.42ZM382.85,58.88H392.07V60.49H382.85ZM403.03,58.88H412.26V60.49H403.03ZM415.37,58.88H495.25V60.49H415.37ZM335.74,60.19H353.94V61.8H335.74ZM362.66,60.19H371.88V61.8H362.66ZM381.73,60.19H392.07V61.8H381.73ZM409.76,60.19H411.14V61.8H409.76ZM417.61,60.19H461.6V61.8H417.61ZM463.6,60.19H471.7V61.8H463.6ZM474.81,60.19H481.79V61.8H474.81ZM489.39,60.19H493.01V61.8H489.39ZM340.23,61.5H344.97V63.11H340.23ZM364.9,61.5H373V63.11H364.9ZM378.36,61.5H392.07V63.11H378.36ZM422.1,61.5H431.32V63.11H422.1ZM441.17,61.5H442.54V63.11H441.17ZM450.14,61.5H452.63V63.11H450.14ZM456.87,61.5H458.24V63.11H456.87ZM471.45,61.5H472.82V63.11H471.45ZM369.39,62.81H385.34V64.42H369.39ZM372.75,64.12H380.85V65.74H372.75Z" fill="#9c2232"/><path d="M333.5,40.5H495.25V42.11H333.5ZM333.5,41.81H393.19V43.42H333.5ZM395.18,41.81H495.25V43.42H395.18ZM333.5,43.12H392.07V44.74H333.5ZM401.91,43.12H495.25V44.74H401.91ZM333.5,44.44H389.83V46.05H333.5ZM403.03,44.44H495.25V46.05H403.03ZM333.5,45.75H386.46V47.36H333.5ZM404.16,45.75H495.25V47.36H404.16ZM333.5,47.06H386.46V48.67H333.5ZM405.28,47.06H495.25V48.67H405.28ZM333.5,48.38H386.46V49.99H333.5ZM406.4,48.38H495.25V49.99H406.4ZM333.5,49.69H386.46V51.3H333.5ZM407.52,49.69H480.67V51.3H407.52ZM488.27,49.69H495.25V51.3H488.27ZM333.5,51H385.34V52.61H333.5ZM408.64,51H479.55V52.61H408.64ZM490.51,51H495.25V52.61H490.51ZM333.5,52.31H386.46V53.92H333.5ZM409.76,52.31H417.86V53.92H409.76ZM424.34,52.31H475.06V53.92H424.34ZM492.76,52.31H495.25V53.92H492.76ZM333.5,53.62H337.11V55.24H333.5ZM337.99,53.62H352.82V55.24H337.99ZM354.81,53.62H358.42V55.24H354.81ZM359.3,53.62H386.46V55.24H359.3ZM412.01,53.62H416.74V55.24H412.01ZM427.71,53.62H456V55.24H427.71ZM456.87,53.62H472.82V55.24H456.87ZM493.88,53.62H495.25V55.24H493.88ZM341.35,54.94H349.45V56.55H341.35ZM366.02,54.94H386.46V56.55H366.02ZM428.83,54.94H454.88V56.55H428.83ZM460.23,54.94H463.85V56.55H460.23ZM465.84,54.94H467.21V56.55H465.84ZM469.2,54.94H471.7V56.55H469.2ZM367.15,56.25H385.34V57.86H367.15ZM440.05,56.25H451.51V57.86H440.05ZM370.51,57.56H385.34V59.17H370.51ZM449.02,57.56H450.39V59.17H449.02ZM370.51,58.88H383.1V60.49H370.51ZM371.63,60.19H381.98V61.8H371.63ZM372.75,61.5H378.61V63.11H372.75Z" fill="#67001f"/>
</g>
<path d="M426.59,65.44 426.81,66.12 428.16,66.17 429.95,65.7 431.3,66.22 432.87,65.96 432.87,65.28 431.75,64.49 430.85,64.02 429.95,64.12 429.28,64.39 429.05,63.65 428.16,63.28 427.48,64.02ZM435.33,64.39 436.23,63.34 437.35,63.08 438.03,63.86 437.13,64.39 437.26,65.17 437.94,65.7 438.03,66.75 438.48,68.17 436.9,68.33 436.23,67.54 436.46,66.59 435.78,65.7Z" fill="#fff" stroke="#222" stroke-width="0.35"/>
<path d="M372.98,63.23 374.32,62.39 376.12,62.55 376.34,63.28 374.77,63.39ZM374.77,65.81 375.45,65.91 375.89,64.65 376.12,63.6 375,63.7ZM376.57,65.17 377.33,65.17 378.36,64.34 377.91,63.6 376.57,63.6ZM376.79,65.96 378.81,65.44 378.59,65.17 377.02,65.59ZM378.45,65.07 380.07,64.97 379.93,64.55 378.59,64.75ZM358.17,53.62 359.97,53.73 361.31,53.1 359.97,52.58 358.17,52.84ZM361.76,55.73 363.56,55.83 365.35,55.09 364.01,54.78 362.21,55.09ZM369.84,61.24 370.96,61.24 370.73,59.92 370.06,59.4 369.61,60.19ZM364.9,57.04 366.25,57.04 366.7,56.51 365.35,56.51ZM368.49,57.83 369.39,58.09 369.39,57.04 368.27,56.88ZM381.05,58.88 382.4,59.14 382.85,58.35 381.5,58.09ZM428.16,88.28 429.5,88.28 429.5,89.33 428.38,89.33ZM427.26,89.59 427.71,89.59 428.16,91.95 427.71,92.21ZM429.5,93 429.95,93 429.95,95.1 429.64,95.1ZM428.16,55.73 429.05,55.57 429.95,54.94 428.83,54.83ZM441.17,63.6 441.84,63.34 441.62,64.65 440.72,64.91ZM447.45,63.6 449.69,63.34 449.69,64.12 447.45,64.23ZM460.91,60.45 461.8,60.19 463.37,58.61 462.7,58.45Z" fill="#1a1a1a" stroke="#1a1a1a" stroke-width="0.3"/>
<path d="M358.62,48.74 364.01,48.48 369.39,48.74 373.88,48.8 377.46,48.9M368.04,48.74 368.94,49.95 370.29,50.74M358.17,50.58 362.21,50.74 365.8,51.42M371.63,47.74 376.12,47.59 378.36,47.85M361.31,47.59 364.9,47.33 369.39,46.54 372.98,46.01M382.85,46.54 384.64,45.49 386.44,44.8M371.18,49.95 372.98,50.48 374.77,50.89" fill="none" stroke="#1a1a1a" stroke-width="0.6" stroke-linejoin="round"/>
<path d="M387.33,114.89a0.45,0.45 0 1,0 0.9,0a0.45,0.45 0 1,0 -0.9,0M397.43,116.26a0.45,0.45 0 1,0 0.9,0a0.45,0.45 0 1,0 -0.9,0M444.98,113.63a0.45,0.45 0 1,0 0.9,0a0.45,0.45 0 1,0 -0.9,0M344.04,77.46a0.45,0.45 0 1,0 0.9,0a0.45,0.45 0 1,0 -0.9,0M342.96,76.52a0.45,0.45 0 1,0 0.9,0a0.45,0.45 0 1,0 -0.9,0M372.98,88.01a0.45,0.45 0 1,0 0.9,0a0.45,0.45 0 1,0 -0.9,0M403.03,79.35a0.45,0.45 0 1,0 0.9,0a0.45,0.45 0 1,0 -0.9,0M406.85,73.05a0.45,0.45 0 1,0 0.9,0a0.45,0.45 0 1,0 -0.9,0M401.69,67.54a0.45,0.45 0 1,0 0.9,0a0.45,0.45 0 1,0 -0.9,0M439.6,98.41a0.45,0.45 0 1,0 0.9,0a0.45,0.45 0 1,0 -0.9,0M438.7,98.83a0.45,0.45 0 1,0 0.9,0a0.45,0.45 0 1,0 -0.9,0M493.65,97.09a0.45,0.45 0 1,0 0.9,0a0.45,0.45 0 1,0 -0.9,0M488.05,99.04a0.45,0.45 0 1,0 0.9,0a0.45,0.45 0 1,0 -0.9,0M488.72,95.89a0.45,0.45 0 1,0 0.9,0a0.45,0.45 0 1,0 -0.9,0M485.58,92.74a0.45,0.45 0 1,0 0.9,0a0.45,0.45 0 1,0 -0.9,0M483.33,91.16a0.45,0.45 0 1,0 0.9,0a0.45,0.45 0 1,0 -0.9,0M346.73,96.99a0.45,0.45 0 1,0 0.9,0a0.45,0.45 0 1,0 -0.9,0M336.64,94.94a0.45,0.45 0 1,0 0.9,0a0.45,0.45 0 1,0 -0.9,0M378.14,105.39a0.45,0.45 0 1,0 0.9,0a0.45,0.45 0 1,0 -0.9,0M407.34,91.9a0.45,0.45 0 1,0 0.9,0a0.45,0.45 0 1,0 -0.9,0M411.24,96.1a0.45,0.45 0 1,0 0.9,0a0.45,0.45 0 1,0 -0.9,0M436.9,112.11a0.45,0.45 0 1,0 0.9,0a0.45,0.45 0 1,0 -0.9,0M430.71,112.32a0.45,0.45 0 1,0 0.9,0a0.45,0.45 0 1,0 -0.9,0M384.33,70.79a0.45,0.45 0 1,0 0.9,0a0.45,0.45 0 1,0 -0.9,0M379.03,74.89a0.45,0.45 0 1,0 0.9,0a0.45,0.45 0 1,0 -0.9,0" fill="#333"/>
<path d="M338.88,53.36 339.78,51.79 341.13,51 344.04,50.32 346.06,50.58 349.2,51 351,51.16 353.24,51.52 355.93,51 358.17,51.26 361.76,51.79 364.9,52.05 367.59,51.79 370.29,52.16 371.63,51.79 372.08,50.21 374.32,51.52 376.12,51.26 377.46,52.58 375.67,53.1 374.77,54.15 372.08,55.73 372.98,56.51 374.77,57.04 376.57,57.3 378.36,57.56 379.26,57.04 379.71,55.99 379.26,55.04 381.5,55.2 382.85,55.73 385.09,56.09 386.44,57.83 387.11,58.88 388.68,60.45 389.13,60.71 387.33,61.5 384.64,61.5 385.45,62.29 385.09,63.08 386.88,63.86 384.64,64.65 382.85,64.91 382.85,65.96 381.05,66.49 380.38,67.54 380.16,69.11 379.26,69.9 377.91,71.21 378.14,73.05 378.36,74.36 377.69,74.21 377.15,73.05 376.57,72 374.77,71.84 374.1,72.53 372.08,72.16 370.6,73.31 370.42,75.15 370.6,76.46 371.18,77.78 371.86,78.19 373.43,77.93 373.65,76.72 375.22,76.46 374.77,78.04 374.55,79.35 376.57,79.4 376.88,80.4 376.7,81.97 377.46,83.03 378.59,82.76 379.53,83.18 379.26,83.81 378.14,83.92 377.02,83.39 375.76,82.5 375,80.93 373.2,80.4 371.86,79.35 370.73,79.46 368.94,78.72 366.92,77.25 366.92,75.94 365.58,74.36 364.01,72.53 362.79,71.11 363.56,72.53 364.23,74.1 365.13,75.68 364.01,74.62 362.88,73.05 361.99,71.21 361.67,70.58 360.19,69.64 359.3,68.06 358.62,66.59 358.4,65.17 358.62,63.34 358.31,62.34 357.28,61.24 355.93,59.4 354.58,57.83 353.01,57.04 351.44,56.36 349.2,56.09 347.86,56.25 346.29,56.67 345.16,57.83 343.15,58.35 341.57,58.88 340.45,59.14 342.02,57.04 343.82,56.93 341.57,56.3 340.23,55.99 339.78,55.2 340.45,54.57 342.02,53.99 339.78,53.84ZM358.17,51.26 364.9,51.79 371.63,51.52 374.77,51.26 377.46,50.74 380.16,49.69 382.85,47.85 379.26,46.8 382.85,45.49 386.44,44.59 380.6,44.07 371.63,44.7 364.9,46.27 359.52,47.33 358.17,48.9ZM381.5,46.7 384.64,45.49 387.33,44.7 391.82,44.44 396.31,43.91 400.79,44.02 405.28,44.7 408.87,44.96 406.18,46.27 405.28,47.85 404.38,49.69 403.48,51 400.79,51.95 398.55,53.1 396.31,53.62 394.96,56.25 393.17,55.73 391.82,54.15 390.47,52.84 390.02,51 389.13,49.69 387.33,47.95 384.64,47.85ZM378.36,49.06 381.5,50.21 383.74,50.74 384.64,52.58 386.44,52.84 385.09,53.89 385.31,54.67 382.85,54.94 381.95,54.41 379.71,53.89 381.05,53.36 381.73,52.31 380.38,51.52 378.36,51 376.12,51 374.32,50.21 375.67,49.01ZM361.31,50.21 363.56,49.42 366.7,49.27 368.72,50.74 367.59,51.63 364.01,51.68 361.54,51.26ZM372.98,47.33 378.36,47.69 380.16,46.54 382.85,46.01 386.44,44.7 380.6,44.17 374.77,44.7 372.98,45.75ZM358.17,50.05 360.42,48.64 362.21,49.16 360.87,50.48 359.07,50.48ZM372.98,47.69 378.36,47.59 378.36,48.59 372.98,48.59ZM361.76,47.74 366.7,47.74 367.59,48.38 361.31,48.38ZM367.59,48.9 370.29,48.9 371.18,49.95 368.94,50.21ZM403.48,53.36 404.38,52.89 407.52,52.84 408.19,53.62 405.95,54.47 404.16,54.26ZM387.65,62.76 389.35,60.66 390.47,62.55 390.56,63.23 389.13,62.81ZM376.12,76.25 378.36,75.57 380.96,77.15 379.48,77.3 377.46,75.94ZM380.87,78.04 381.95,77.25 383.56,78.04 382.4,78.51 380.87,78.14ZM379.53,83.18 380.38,82.13 381.73,81.56 382.26,81.97 383.74,82.24 385.54,82.13 386.53,82.24 387.02,83.29 388.45,84.6 390.02,84.71 391.15,85.55 391.82,86.81 392.49,88.28 394.29,89.06 396.31,89.22 398.41,90.53 398.64,91.69 398.32,92.74 396.98,94.58 396.75,96.94 396.08,98.51 395.41,99.83 394.29,99.93 392.49,101.4 392.36,102.71 391.37,104.03 390.47,105.44 389.13,106.07 388.1,105.6 388.68,106.91 388.45,107.7 386.44,108.23 386.35,109.28 385.09,109.8 384.87,111.38 383.97,112.16 384.64,112.95 383.61,114 383.3,115.05 383.52,115.84 384.42,116.62 382.85,116.62 381.05,115.31 380.38,113.21 381.05,111.38 381.28,109.28 381.19,107.17 382.17,104.55 382.22,102.45 382.62,100.09 382.76,97.46 382.17,96.78 380.38,95.78 379.71,94.05 378.59,91.69 377.82,90.64 378.36,89.33 378.14,88.28 378.45,87.22 378.99,86.81 379.48,85.65 379.48,84.34 379.3,83.97ZM411.6,68.95 413.35,69.32 415.6,68.43 418.83,68.22 419.18,69.11 418.74,69.9 419.41,70.42 421.07,70.79 423,71.74 423.22,70.95 424.57,70.64 427.26,71.53 428.74,71.32 429.59,71.32 429.73,72.26 429.28,73.05 428.87,72.05 429.28,73.47 430.18,75.15 430.94,76.72 431.52,78.3 431.97,79.61 432.87,80.66 433.67,81.19 434.21,82.29 437.22,81.56 437.13,82.29 436.46,84.6 435.33,85.75 433.54,87.75 432.87,88.69 431.97,90.27 431.66,91.16 431.97,91.95 432.42,93.26 432.42,95.62 430.85,96.94 429.95,98.25 430.18,100.35 428.96,101.4 428.83,102.71 427.93,104.03 426.59,105.34 425.69,105.6 424.12,105.7 423.22,106.02 422.55,105.7 422.32,104.55 421.65,102.71 421.07,101.93 420.75,99.56 420.08,98.25 419.54,96.68 419.77,94.84 420.17,92.47 419.72,90.9 419.63,90.38 418.29,88.54 418.51,87.22 418.65,85.91 418.06,85.39 416.94,85.49 416.27,84.44 414.92,84.55 413.35,85.23 410.89,85.44 410.21,84.97 409.09,84.18 408.28,83.24 407.52,82.08 406.71,81.19 406.4,80.03 406.85,79.19 407.07,77.51 406.62,76.72 407.52,75.15 407.75,74.1 408.42,73.26 409.76,72.26 409.85,71.21 411.11,70.06ZM436.37,94.05 436.9,95.89 436.46,96.94 435.33,100.88 434.44,101.14 433.76,99.3 434.12,97.2 435.11,96.05 435.78,94.84ZM411.74,68.85 411.33,68.38 410.21,68.33 410.3,66.75 410.08,65.17 410.66,64.81 412.46,64.91 413.58,64.97 413.71,63.6 413.13,62.92 412.23,62.34 413.58,62.18 414.34,61.76 414.97,61.03 415.82,60.71 416.49,59.92 417.84,59.66 418.11,58.61 417.93,57.93 418.74,57.56 418.96,58.88 419.86,59.14 420.53,59.4 422.55,59.09 423.67,58.61 423.67,57.83 424.79,57.72 424.34,56.78 426.81,56.51 427.48,56.25 425.91,56.04 424.34,56.25 423.9,55.46 425.47,53.62 425.56,53.2 424.12,53.26 422.19,54.94 421.88,55.73 422.77,56.36 421.65,57.83 421.43,58.25 420.08,58.67 419.86,58.09 419.54,57.3 419.01,56.67 417.84,57.3 416.72,56.88 416.49,55.2 417.84,54.41 419.63,53.36 420.75,52.16 422.32,51.26 424.57,50.58 426.81,50.48 428.16,51 429.05,51.37 430.4,51.52 432.64,52.31 432.19,53.1 429.95,53.89 430.85,54.26 432.64,52.84 433.99,52.94 433.9,51.79 435.11,52.05 438.03,51.79 440.27,51.58 441.17,51.26 443.86,51.52 444.98,51.89 444.22,50.58 445.2,49.53 447,51.52 447.45,49.69 450.14,49.69 451.04,49.16 453.28,48.9 455.52,47.95 459.11,47.59 461.04,46.96 464.49,49.06 464.94,49.16 468.08,49.42 471.22,49.16 472.35,50.21 474.81,50.16 477.06,49.69 479.75,49.79 481.99,50.21 484.23,50.48 486.03,50.74 488.27,51.16 490.51,51 493.21,51.11 495,51.63 495,53.62 494.33,53.89 493.65,54.94 491.86,55.73 490.51,56.25 487.37,56.36 487.37,57.3 486.93,58.35 484.5,60.98 484.23,60.19 484.01,58.35 484.46,57.56 486.03,55.46 484.23,55.41 482.44,56.67 478.4,56.56 477.28,57.56 475.93,59.4 477.5,60.19 477.28,61.5 477.06,62.55 475.93,63.86 473.92,65.33 472.88,65.54 472.35,66.49 471.9,67.54 472.3,68.85 472.12,69.38 471,69.74 470.77,68.33 470.33,67.01 468.62,67.38 469.12,66.49 468.53,66.28 467.19,67.17 466.96,67.54 467.63,68.22 469.2,68.12 467.86,69.38 468.44,70.79 468.94,71.47 468.76,73.05 467.86,74.36 466.51,75.68 465.17,76.04 463.82,76.62 463.51,76.46 462.7,76.46 462.03,77.25 461.71,77.78 462.12,78.72 463.06,79.72 463.28,81.45 462.48,82.24 461.35,83.18 461.26,82.24 460.46,81.97 459.51,81.08 459.11,80.66 458.75,82.24 459.25,83.29 459.78,84.86 460.68,85.65 461,87.07 460.68,87.07 459.78,86.28 459.25,84.86 458.44,83.55 458.35,81.97 458.08,79.09 456.64,79.19 456.55,77.93 455.66,76.88 455.43,75.94 454.85,76.2 453.95,76.36 453.28,76.46 452.38,77.51 451.17,78.98 450.23,80.66 450.05,82.34 449.02,83.5 448.48,82.5 447.81,80.93 447.13,78.83 446.91,76.72 446.77,76.04 445.74,76.78 445.11,75.89 444.53,75.15 444.08,74.41 441.88,74.52 439.96,74.21 439.51,73.47 438.48,73.78 437.35,73.16 436.68,72 435.78,72 436.01,72.94 436.73,73.84 437.35,74.89 438.7,75.05 439.51,73.94 439.55,74.89 440.58,75.41 441.08,75.99 440.18,77.78 438.92,78.83 437.58,79.46 436.1,80.4 434.44,81.03 433.67,81.08 433.45,79.88 433.32,79.09 432.19,77.09 431.75,76.2 430.85,74.36 429.95,73.05 429.91,72.26 429.59,71.32 429.95,70.53 430.36,69.22 430.49,68.53 428.96,68.8 427.93,68.69 426.81,68.43 426.14,67.54 426,66.75 425.91,66.33 425.02,66.38 424.48,66.59 424.79,67.8 424.12,68.59 423.76,67.91 423.22,67.01 422.95,65.81 421.43,64.91 420.4,64.02 419.77,63.97 420.31,64.86 421.43,65.75 422.55,66.64 422.24,66.86 421.65,67.54 421.29,67.8 421.25,66.75 419.63,65.7 418.87,64.86 418.2,64.44 417.17,65.12 415.69,65.07 415.6,65.81 414.47,66.49 414.12,67.12 414.34,67.43 413.89,68.01 413.26,68.48 412.23,68.53ZM333.5,51.63 336.19,52.31 337.54,52.68 338.12,53.1 336.86,53.89 335.29,53.78 334.17,53.36 333.5,53.62ZM411.69,61.5 412.9,61.19 414.88,60.87 415.01,60.08 414.25,59.66 413.58,58.88 413.35,58.35 413.44,57.51 412.68,56.98 412.01,56.98 411.47,57.93 411.78,58.61 412.1,58.98 412.9,59.4 412.1,59.92 412.32,60.29 411.87,60.61 412.9,60.82ZM411.56,60.34 411.47,59.4 411.78,59.09 410.98,58.72 409.76,59.3 409.81,60.45 410.66,60.66ZM472.97,69.9 473.92,69.64 475.04,69.64 475.62,69.64 476.97,69.38 477.41,68.85 477.5,67.64 477.95,67.01 477.68,66.02 477.06,66.49 476.97,67.28 476.38,67.91 475.62,68.22 475.04,69.06 473.92,69.11 473.24,69.53ZM477.06,65.96 477.82,65.44 478.54,65.7 479.52,65.02 479.07,64.65 477.82,63.92 477.73,64.91 477.06,65.17ZM472.48,70.16 473.02,69.95 473.47,70.42 473.02,71.47 472.66,71.37ZM477.95,63.6 478.63,63.18 478.4,61.76 479.07,62.03 478.49,60.56 478.31,59.24 478.04,59.4 477.86,60.45 477.95,62.03 477.91,63.28ZM468.17,75.68 468.53,74.52 468.98,74.62 468.53,76.2ZM463.01,77.67 463.82,77.2 464.05,77.46 463.51,78.19ZM468.08,78.04 469.12,78.04 468.98,79.19 468.98,80.4 469.88,80.93 469.65,81.14 468.53,80.4 468.31,79.88ZM468.98,84.08 470.55,82.61 471,84.08 470.55,84.71 469.88,84.44ZM468.98,81.56 469.88,81.71 470.77,81.97 470.1,82.61 469.2,82.76ZM463.15,86.96 464.05,86.81 464.94,86.07 466.06,85.02 466.74,84.08 467.72,85.02 467.19,85.65 466.96,87.22 467.55,87.22 466.51,88.38 466.29,89.59 465.62,89.85 464.27,89.33 463.69,88.54 463.15,87.75ZM457,84.81 457.99,85.02 459.25,86.7 460.77,88.28 461.8,89.43 461.71,90.8 461.13,90.85 460.01,89.85 459.25,88.28 458.48,86.81 457.09,85.65ZM461.44,91.32 461.8,90.9 462.92,91.11 464.05,91.16 464.81,91.37 465.62,91.84 465.62,92.32 464.05,92.06 462.7,91.84 461.58,91.43ZM467.86,90.64 467.63,89.33 467.99,87.75 468.31,87.22 470.33,86.96 468.53,87.54 469.56,88.28 468.67,88.75 469.56,89.96 468.98,90.27 468.26,89.27 468.26,90.64ZM473.02,88.43 474.36,88.17 475.93,88.54 477.5,89.12 479.52,90.01 480.64,90.9 480.42,91.95 481.54,93.16 479.97,92.47 478.85,91.79 478.18,92.63 477.5,92.47 476.16,92.11 476.07,90.53 474.81,90.06 473.69,89.59 473.47,89.06ZM465.17,99.3 465.39,101.4 465.84,103.24 466.06,105.44 466.96,106.12 468.08,105.6 469.65,105.5 470.77,104.71 473.02,104.29 474.36,104.97 475.17,106.02 476.07,105.08 475.93,106.39 476.83,106.65 477.06,107.7 478.63,108.12 479.88,108.28 480.78,107.59 481.54,107.39 482.12,105.39 482.89,104.03 483.11,102.45 482.89,100.88 481.9,99.62 481.09,98.51 479.88,97.72 479.52,95.62 478.63,95.1 478.18,93.42 477.77,94.58 477.73,96.68 477.28,96.99 476.61,96.68 475.26,95.89 475.62,94.21 474.81,94.05 473.69,93.68 472.93,94.21 472.35,95.62 471.58,95.21 470.77,95.1 470.1,96.36 469.2,96.68 468.76,97.88 467.41,98.41 466.51,98.62 465.62,99.19ZM479.16,109.12 480.78,109.22 480.64,110.33 479.97,110.64 479.3,109.8ZM491.73,105.81 492.76,106.91 494.33,107.54 493.65,108.33 492.76,109.54 492.58,108.65 492.22,108.33 492.53,107.17ZM491.73,109.01 492.44,109.64 491.86,110.59 490.96,111.64 490.07,112.22 488.94,111.9 489.75,110.85 490.96,109.8ZM450.05,82.61 450.95,83.81 450.68,84.5 450.14,84.6 450,83.44ZM419.18,46.54 421.43,45.75 426.36,45.64 424.12,46.8 421.88,47.59ZM437.58,50.48 439.37,49.16 441.17,48.11 444.76,47.33 443.41,48.11 440.27,49.42 438.92,50.63ZM456.87,46.01 459.11,45.23 460.91,46.01 458.66,46.7ZM475.71,48.11 478.4,47.85 481.54,48.38 477.06,49.01ZM434.44,45.49 438.92,45.12 442.06,45.49 437.58,45.86Z" fill="none" stroke="#141414" stroke-width="0.7" stroke-linejoin="round"/>
<rect x="334" y="40.5" width="160.6" height="78.8" fill="none" stroke="#858585" stroke-width="0.9"/>
<text x="150.3" y="35.6" font-size="8.5" fill="#222">SSP1-2.6</text>
<text x="490.7" y="35.6" font-size="8.5" text-anchor="end" fill="#222">SSP5-8.5</text>
<text x="242" y="35.1" font-size="9.8" fill="#222">(b) 2071-2100 minus 1850-1900</text>
<rect x="221.25" y="128.5" width="20.8" height="7" fill="#c6dcec"/>
<rect x="242" y="128.5" width="14.3" height="7" fill="#f7f7f7"/>
<rect x="256.25" y="128.5" width="20.8" height="7" fill="#f5cdc7"/>
<rect x="277" y="128.5" width="28.55" height="7" fill="#eba49c"/>
<rect x="305.5" y="128.5" width="28.3" height="7" fill="#dc7262"/>
<rect x="333.75" y="128.5" width="27.55" height="7" fill="#c64a3c"/>
<rect x="361.25" y="128.5" width="28.3" height="7" fill="#9c2232"/>
<rect x="389.5" y="128.5" width="28.55" height="7" fill="#67001f"/>
<rect x="221.25" y="128.5" width="196.75" height="7" fill="none" stroke="#444" stroke-width="0.5"/>
<line x1="249.25" y1="135.5" x2="249.25" y2="134.3" stroke="#333" stroke-width="0.4"/>
<text x="249.25" y="143.6" font-size="5.4" text-anchor="middle" fill="#333">0</text>
<line x1="305.35" y1="135.5" x2="305.35" y2="134.3" stroke="#333" stroke-width="0.4"/>
<text x="305.35" y="143.6" font-size="5.4" text-anchor="middle" fill="#333">5</text>
<line x1="361.45" y1="135.5" x2="361.45" y2="134.3" stroke="#333" stroke-width="0.4"/>
<text x="361.45" y="143.6" font-size="5.4" text-anchor="middle" fill="#333">10</text>
<line x1="417.55" y1="135.5" x2="417.55" y2="134.3" stroke="#333" stroke-width="0.4"/>
<text x="417.55" y="143.6" font-size="5.4" text-anchor="middle" fill="#333">15</text>
<text x="424.6" y="134.2" font-size="6.6" fill="#333">°C</text>
<g transform="translate(0,0)">
<rect x="57.7" y="170.5" width="193.5" height="95.6" fill="#fff" stroke="#a3a3a3" stroke-width="1.4"/>
<path d="M95.8,172V265M125.1,172V265M154.6,172V265M183.8,172V265M213.3,172V265M66,192.3H243M66,217.3H243M66,242.3H243" stroke="#ececec" stroke-width="0.5" fill="none"/>
<polygon points="66.25,180.4 72.25,180.4 72.25,185.6 66.25,185.6" fill="#d05c47" stroke="#111" stroke-width="1.15" stroke-linejoin="round"/>
<polygon points="72.25,181.25 91.4,181.5 93.5,178.75 103.7,177.75 103.7,192.3 91.5,192.3 84.5,188.5 72.6,191.5 72.25,191.3" fill="#e98a4c" stroke="#111" stroke-width="1.15" stroke-linejoin="round"/>
<polygon points="103.7,177.75 116,175.6 130.2,189.6 130.2,192.3 103.7,192.3" fill="#d05c47" stroke="#111" stroke-width="1.15" stroke-linejoin="round"/>
<polygon points="116,175.3 149.75,175.3 149.75,185.7 136,186.25 134.75,188.5 130.2,189.6" fill="#e98a4c" stroke="#111" stroke-width="1.15" stroke-linejoin="round"/>
<polygon points="91.5,192.3 103.6,192.3 103.6,200 95,200" fill="#f8dd8b" stroke="#111" stroke-width="1.15" stroke-linejoin="round"/>
<polygon points="103.6,192.3 110.3,192.3 110.3,204.4 103.6,200" fill="#f0b65a" stroke="#111" stroke-width="1.15" stroke-linejoin="round"/>
<polygon points="110.3,192.3 129.5,192.3 117,202.6 110.3,204.4" fill="#e98a4c" stroke="#111" stroke-width="1.15" stroke-linejoin="round"/>
<polygon points="95,200 103.6,200 110.3,204.4 110.5,205.2 104.4,208.9 96.8,202.6" fill="#f8dd8b" stroke="#111" stroke-width="1.15" stroke-linejoin="round"/>
<polygon points="104.4,208.9 110.5,205.2 117.8,211.4 113.9,215.9" fill="#e98a4c" stroke="#111" stroke-width="1.15" stroke-linejoin="round"/>
<polygon points="110.3,204.4 117,202.6 122.3,206.6 130.4,214 127.4,211.7 119.3,211.7 117.8,211.4 110.5,205.2" fill="#e98a4c" stroke="#111" stroke-width="1.15" stroke-linejoin="round"/>
<polygon points="113.9,216 117.8,211.6 119.3,212 119.3,225.8 116.8,225.6 113.9,222.3" fill="#d05c47" stroke="#111" stroke-width="1.15" stroke-linejoin="round"/>
<polygon points="119.3,211.7 127.4,211.7 130.4,214 130.4,221.3 119.3,221.3" fill="#93413a" stroke="#111" stroke-width="1.15" stroke-linejoin="round"/>
<polygon points="130.2,217.4 138.6,217.4 138.6,227.2 130.2,227.2" fill="#93413a" stroke="#111" stroke-width="1.15" stroke-linejoin="round"/>
<polygon points="119.3,221.3 130.2,221.3 130.2,227.2 121.3,227.2 119.3,225.8" fill="#e98a4c" stroke="#111" stroke-width="1.15" stroke-linejoin="round"/>
<polygon points="116.8,225.6 119.3,225.8 121.3,227.2 118.9,240.6 116.3,240.6" fill="#f0b65a" stroke="#111" stroke-width="1.15" stroke-linejoin="round"/>
<polygon points="121.3,227.2 138.6,227.2 126.9,237.5 126.9,245 115.6,245 116.3,240.6 118.9,240.6" fill="#e98a4c" stroke="#111" stroke-width="1.15" stroke-linejoin="round"/>
<polygon points="149.75,181.4 174.6,181.4 174.6,187 149.75,193.9" fill="#e98a4c" stroke="#111" stroke-width="1.15" stroke-linejoin="round"/>
<polygon points="149.75,193.9 174.6,187 174.6,195.5 149.75,195.5" fill="#e98a4c" stroke="#111" stroke-width="1.15" stroke-linejoin="round"/>
<polygon points="174.6,181.4 200.6,176.25 242.5,180.6 242.5,185.3 174.6,185.3" fill="#d05c47" stroke="#111" stroke-width="1.15" stroke-linejoin="round"/>
<polygon points="174.6,185.3 183.75,185.3 183.75,195.5 174.6,195.5" fill="#e98a4c" stroke="#111" stroke-width="1.15" stroke-linejoin="round"/>
<polygon points="183.75,185.3 198.4,185.3 198.4,195.5 183.75,195.5" fill="#e98a4c" stroke="#111" stroke-width="1.15" stroke-linejoin="round"/>
<polygon points="198.4,185.3 218.4,185.3 218.4,195.6 198.4,195.5" fill="#e98a4c" stroke="#111" stroke-width="1.15" stroke-linejoin="round"/>
<polygon points="218.4,185.3 242.5,185.3 242.5,185.8 233.1,191.25 222.5,195.6 218.4,195.6" fill="#e98a4c" stroke="#111" stroke-width="1.15" stroke-linejoin="round"/>
<polygon points="150,195.5 174.5,195.5 174.5,202.6 150,202.6" fill="#f0b65a" stroke="#111" stroke-width="1.15" stroke-linejoin="round"/>
<polygon points="174.5,195.5 191.6,195.6 191.6,202.6 183,202.6 174.5,202.6" fill="#f0b65a" stroke="#111" stroke-width="1.15" stroke-linejoin="round"/>
<polygon points="191.6,195.6 210.5,195.6 207.7,198.9 191.6,198.9" fill="#f8dd8b" stroke="#111" stroke-width="1.15" stroke-linejoin="round"/>
<polygon points="207.7,198.9 210.5,195.6 226.5,195.6 219,203.75 219,207.6 203.1,207.6 203.1,199.4" fill="#f0b65a" stroke="#111" stroke-width="1.15" stroke-linejoin="round"/>
<polygon points="191.6,198.9 207.7,198.9 203.1,199.4 203.1,203.5 196.7,204.4 191.6,202.6" fill="#e98a4c" stroke="#111" stroke-width="1.15" stroke-linejoin="round"/>
<polygon points="171.8,202.6 183,202.6 184.7,203.5 183.8,207.2 176.4,211.3" fill="#e98a4c" stroke="#111" stroke-width="1.15" stroke-linejoin="round"/>
<polygon points="184.7,203.5 191.6,202.6 196.7,204.4 203.1,203.5 203.1,207.6 200.4,207.6 195.8,207.6 193,214.1 188.9,206.7" fill="#e98a4c" stroke="#111" stroke-width="1.15" stroke-linejoin="round"/>
<polygon points="200.1,207.6 219,207.6 219,214.4 229.8,222 229.8,222.6 208.4,222.6 200.1,222.6" fill="#d05c47" stroke="#111" stroke-width="1.15" stroke-linejoin="round"/>
<polygon points="208.4,222.6 229.8,222.6 229.8,232.3 229.8,242 208.4,236.5" fill="#d05c47" stroke="#111" stroke-width="1.15" stroke-linejoin="round"/>
<polygon points="229.8,232.3 241.6,232.3 241.6,242 229.8,242" fill="#d05c47" stroke="#111" stroke-width="1.15" stroke-linejoin="round"/>
<polygon points="144.5,202.75 171.8,202.75 176.4,210.6 162,210.2 144.5,210.2" fill="#d05c47" stroke="#111" stroke-width="1.15" stroke-linejoin="round"/>
<polygon points="144.5,210.2 162,210.2 158.25,218.75 144.5,213.1" fill="#d05c47" stroke="#111" stroke-width="1.15" stroke-linejoin="round"/>
<polygon points="162,210.2 167,210.2 167,221.9 158.25,221.9 158.25,218.75" fill="#d05c47" stroke="#111" stroke-width="1.15" stroke-linejoin="round"/>
<polygon points="167,210.2 176.4,210.6 179.5,210 179.5,215 177,215.6 177,216.9 167,216.9" fill="#d05c47" stroke="#111" stroke-width="1.15" stroke-linejoin="round"/>
<polygon points="167,216.9 177,216.9 177,221.9 167,221.9" fill="#93413a" stroke="#111" stroke-width="1.15" stroke-linejoin="round"/>
<polygon points="158.25,221.9 167,221.9 167,235.6 158.25,235.6" fill="#d05c47" stroke="#111" stroke-width="1.15" stroke-linejoin="round"/>
<polygon points="167,221.9 177,221.9 171.4,231.25 171.4,235.6 167,235.6" fill="#d05c47" stroke="#111" stroke-width="1.15" stroke-linejoin="round"/>
<polygon points="177,221.9 180.1,222.5 180.1,230.6 171.4,231.25" fill="#d05c47" stroke="#111" stroke-width="1.15" stroke-linejoin="round"/>
<path d="M208.4,227.5H229.8M208.4,232.3H225.7M225.7,227.5V233.7L229.8,235.9M174.6,195.5V202.6" stroke="#111" stroke-width="1.15" fill="none"/>
<path d="M97.3,200.6L104.4,208.2M99.9,200.3L106.4,206.9M102.6,200.3L108.3,205.5" stroke="#333" stroke-width="0.5" fill="none"/>
<path d="M127,254.6H142.5L158,249.1H242.9V262.7H66.4V259.2H127Z" fill="#fff" stroke="#111" stroke-width="1.15" stroke-linejoin="round"/>
<path d="M66.4,252.3H115.2L122,248.4H127V259.2H66.4Z" fill="#fff" stroke="#111" stroke-width="1.15" stroke-linejoin="round"/>
<line x1="67" y1="259.6" x2="126.5" y2="259.6" stroke="#666" stroke-width="0.7"/>
</g>
<g transform="translate(206.75,0)">
<rect x="57.7" y="170.5" width="193.5" height="95.6" fill="#fff" stroke="#a3a3a3" stroke-width="1.4"/>
<path d="M95.8,172V265M125.1,172V265M154.6,172V265M183.8,172V265M213.3,172V265M66,192.3H243M66,217.3H243M66,242.3H243" stroke="#ececec" stroke-width="0.5" fill="none"/>
<polygon points="66.25,180.4 72.25,180.4 72.25,185.6 66.25,185.6" fill="#d05c47" stroke="#111" stroke-width="1.15" stroke-linejoin="round"/>
<polygon points="72.25,181.25 91.4,181.5 93.5,178.75 103.7,177.75 103.7,192.3 91.5,192.3 84.5,188.5 72.6,191.5 72.25,191.3" fill="#e98a4c" stroke="#111" stroke-width="1.15" stroke-linejoin="round"/>
<polygon points="103.7,177.75 116,175.6 130.2,189.6 130.2,192.3 103.7,192.3" fill="#d05c47" stroke="#111" stroke-width="1.15" stroke-linejoin="round"/>
<polygon points="116,175.3 149.75,175.3 149.75,185.7 136,186.25 134.75,188.5 130.2,189.6" fill="#e98a4c" stroke="#111" stroke-width="1.15" stroke-linejoin="round"/>
<polygon points="91.5,192.3 103.6,192.3 103.6,200 95,200" fill="#f0b65a" stroke="#111" stroke-width="1.15" stroke-linejoin="round"/>
<polygon points="103.6,192.3 110.3,192.3 110.3,204.4 103.6,200" fill="#f0b65a" stroke="#111" stroke-width="1.15" stroke-linejoin="round"/>
<polygon points="110.3,192.3 129.5,192.3 117,202.6 110.3,204.4" fill="#e98a4c" stroke="#111" stroke-width="1.15" stroke-linejoin="round"/>
<polygon points="95,200 103.6,200 110.3,204.4 110.5,205.2 104.4,208.9 96.8,202.6" fill="#e98a4c" stroke="#111" stroke-width="1.15" stroke-linejoin="round"/>
<polygon points="104.4,208.9 110.5,205.2 117.8,211.4 113.9,215.9" fill="#e98a4c" stroke="#111" stroke-width="1.15" stroke-linejoin="round"/>
<polygon points="110.3,204.4 117,202.6 122.3,206.6 130.4,214 127.4,211.7 119.3,211.7 117.8,211.4 110.5,205.2" fill="#e98a4c" stroke="#111" stroke-width="1.15" stroke-linejoin="round"/>
<polygon points="113.9,216 117.8,211.6 119.3,212 119.3,225.8 116.8,225.6 113.9,222.3" fill="#d05c47" stroke="#111" stroke-width="1.15" stroke-linejoin="round"/>
<polygon points="119.3,211.7 127.4,211.7 130.4,214 130.4,221.3 119.3,221.3" fill="#93413a" stroke="#111" stroke-width="1.15" stroke-linejoin="round"/>
<polygon points="130.2,217.4 138.6,217.4 138.6,227.2 130.2,227.2" fill="#93413a" stroke="#111" stroke-width="1.15" stroke-linejoin="round"/>
<polygon points="119.3,221.3 130.2,221.3 130.2,227.2 121.3,227.2 119.3,225.8" fill="#e98a4c" stroke="#111" stroke-width="1.15" stroke-linejoin="round"/>
<polygon points="116.8,225.6 119.3,225.8 121.3,227.2 118.9,240.6 116.3,240.6" fill="#e98a4c" stroke="#111" stroke-width="1.15" stroke-linejoin="round"/>
<polygon points="121.3,227.2 138.6,227.2 126.9,237.5 126.9,245 115.6,245 116.3,240.6 118.9,240.6" fill="#e98a4c" stroke="#111" stroke-width="1.15" stroke-linejoin="round"/>
<polygon points="149.75,181.4 174.6,181.4 174.6,187 149.75,193.9" fill="#e98a4c" stroke="#111" stroke-width="1.15" stroke-linejoin="round"/>
<polygon points="149.75,193.9 174.6,187 174.6,195.5 149.75,195.5" fill="#e98a4c" stroke="#111" stroke-width="1.15" stroke-linejoin="round"/>
<polygon points="174.6,181.4 200.6,176.25 242.5,180.6 242.5,185.3 174.6,185.3" fill="#d05c47" stroke="#111" stroke-width="1.15" stroke-linejoin="round"/>
<polygon points="174.6,185.3 183.75,185.3 183.75,195.5 174.6,195.5" fill="#e98a4c" stroke="#111" stroke-width="1.15" stroke-linejoin="round"/>
<polygon points="183.75,185.3 198.4,185.3 198.4,195.5 183.75,195.5" fill="#e98a4c" stroke="#111" stroke-width="1.15" stroke-linejoin="round"/>
<polygon points="198.4,185.3 218.4,185.3 218.4,195.6 198.4,195.5" fill="#e98a4c" stroke="#111" stroke-width="1.15" stroke-linejoin="round"/>
<polygon points="218.4,185.3 242.5,185.3 242.5,185.8 233.1,191.25 222.5,195.6 218.4,195.6" fill="#e98a4c" stroke="#111" stroke-width="1.15" stroke-linejoin="round"/>
<polygon points="150,195.5 174.5,195.5 174.5,202.6 150,202.6" fill="#e98a4c" stroke="#111" stroke-width="1.15" stroke-linejoin="round"/>
<polygon points="174.5,195.5 191.6,195.6 191.6,202.6 183,202.6 174.5,202.6" fill="#e98a4c" stroke="#111" stroke-width="1.15" stroke-linejoin="round"/>
<polygon points="191.6,195.6 210.5,195.6 207.7,198.9 191.6,198.9" fill="#e98a4c" stroke="#111" stroke-width="1.15" stroke-linejoin="round"/>
<polygon points="207.7,198.9 210.5,195.6 226.5,195.6 219,203.75 219,207.6 203.1,207.6 203.1,199.4" fill="#e98a4c" stroke="#111" stroke-width="1.15" stroke-linejoin="round"/>
<polygon points="191.6,198.9 207.7,198.9 203.1,199.4 203.1,203.5 196.7,204.4 191.6,202.6" fill="#e98a4c" stroke="#111" stroke-width="1.15" stroke-linejoin="round"/>
<polygon points="171.8,202.6 183,202.6 184.7,203.5 183.8,207.2 176.4,211.3" fill="#e98a4c" stroke="#111" stroke-width="1.15" stroke-linejoin="round"/>
<polygon points="184.7,203.5 191.6,202.6 196.7,204.4 203.1,203.5 203.1,207.6 200.4,207.6 195.8,207.6 193,214.1 188.9,206.7" fill="#e98a4c" stroke="#111" stroke-width="1.15" stroke-linejoin="round"/>
<polygon points="200.1,207.6 219,207.6 219,214.4 229.8,222 229.8,222.6 208.4,222.6 200.1,222.6" fill="#d05c47" stroke="#111" stroke-width="1.15" stroke-linejoin="round"/>
<polygon points="208.4,222.6 229.8,222.6 229.8,232.3 229.8,242 208.4,236.5" fill="#d05c47" stroke="#111" stroke-width="1.15" stroke-linejoin="round"/>
<polygon points="229.8,232.3 241.6,232.3 241.6,242 229.8,242" fill="#d05c47" stroke="#111" stroke-width="1.15" stroke-linejoin="round"/>
<polygon points="144.5,202.75 171.8,202.75 176.4,210.6 162,210.2 144.5,210.2" fill="#d05c47" stroke="#111" stroke-width="1.15" stroke-linejoin="round"/>
<polygon points="144.5,210.2 162,210.2 158.25,218.75 144.5,213.1" fill="#d05c47" stroke="#111" stroke-width="1.15" stroke-linejoin="round"/>
<polygon points="162,210.2 167,210.2 167,221.9 158.25,221.9 158.25,218.75" fill="#d05c47" stroke="#111" stroke-width="1.15" stroke-linejoin="round"/>
<polygon points="167,210.2 176.4,210.6 179.5,210 179.5,215 177,215.6 177,216.9 167,216.9" fill="#d05c47" stroke="#111" stroke-width="1.15" stroke-linejoin="round"/>
<polygon points="167,216.9 177,216.9 177,221.9 167,221.9" fill="#93413a" stroke="#111" stroke-width="1.15" stroke-linejoin="round"/>
<polygon points="158.25,221.9 167,221.9 167,235.6 158.25,235.6" fill="#d05c47" stroke="#111" stroke-width="1.15" stroke-linejoin="round"/>
<polygon points="167,221.9 177,221.9 171.4,231.25 171.4,235.6 167,235.6" fill="#d05c47" stroke="#111" stroke-width="1.15" stroke-linejoin="round"/>
<polygon points="177,221.9 180.1,222.5 180.1,230.6 171.4,231.25" fill="#d05c47" stroke="#111" stroke-width="1.15" stroke-linejoin="round"/>
<path d="M208.4,227.5H229.8M208.4,232.3H225.7M225.7,227.5V233.7L229.8,235.9M174.6,195.5V202.6" stroke="#111" stroke-width="1.15" fill="none"/>
<path d="M127,254.6H142.5L158,249.1H242.9V262.7H66.4V259.2H127Z" fill="#fff" stroke="#111" stroke-width="1.15" stroke-linejoin="round"/>
<path d="M66.4,252.3H115.2L122,248.4H127V259.2H66.4Z" fill="#fff" stroke="#111" stroke-width="1.15" stroke-linejoin="round"/>
<line x1="67" y1="259.6" x2="126.5" y2="259.6" stroke="#666" stroke-width="0.7"/>
</g>
<text x="64.9" y="166.8" font-size="8.35" fill="#222">SSP1-2.6</text>
<text x="447.4" y="166.9" font-size="8.35" text-anchor="end" fill="#222">SSP5-8.5</text>
<text x="206" y="165.9" font-size="9.95" fill="#222">(c) Time of emergence</text>
<rect x="55" y="275.6" width="27" height="13" fill="#221e10" stroke="#222" stroke-width="0.5"/>
<rect x="82" y="275.6" width="26" height="13" fill="#5b2b22" stroke="#222" stroke-width="0.5"/>
<rect x="108" y="275.6" width="26.5" height="13" fill="#93413a" stroke="#222" stroke-width="0.5"/>
<rect x="134.5" y="275.6" width="26" height="13" fill="#d05c47" stroke="#222" stroke-width="0.5"/>
<rect x="160.5" y="275.6" width="26" height="13" fill="#e98a4c" stroke="#222" stroke-width="0.5"/>
<rect x="186.5" y="275.6" width="26" height="13" fill="#f0b65a" stroke="#222" stroke-width="0.5"/>
<rect x="212.5" y="275.6" width="26" height="13" fill="#f8dd8b" stroke="#222" stroke-width="0.5"/>
<rect x="238.5" y="275.6" width="26.5" height="13" fill="#fdf7c5" stroke="#222" stroke-width="0.5"/>
<rect x="55" y="275.6" width="210" height="13" fill="none" stroke="#111" stroke-width="0.7"/>
<text x="55.8" y="297.6" font-size="7.1" text-anchor="middle" fill="#222">1910</text>
<text x="82.8" y="297.6" font-size="7.1" text-anchor="middle" fill="#222">1930</text>
<text x="108.8" y="297.6" font-size="7.1" text-anchor="middle" fill="#222">1950</text>
<text x="135.3" y="297.6" font-size="7.1" text-anchor="middle" fill="#222">1970</text>
<text x="161.3" y="297.6" font-size="7.1" text-anchor="middle" fill="#222">1990</text>
<text x="187.3" y="297.6" font-size="7.1" text-anchor="middle" fill="#222">2010</text>
<text x="213.3" y="297.6" font-size="7.1" text-anchor="middle" fill="#222">2030</text>
<text x="239.3" y="297.6" font-size="7.1" text-anchor="middle" fill="#222">2050</text>
<text x="265.8" y="297.6" font-size="7.1" text-anchor="middle" fill="#222">2070</text>
<rect x="285.2" y="275.9" width="42.8" height="12.8" fill="#e6e6e6" stroke="#555" stroke-width="0.8"/>
<text x="306.5" y="297.6" font-size="6.3" text-anchor="middle" fill="#222">No emergence</text>
<clipPath id="hc348"><rect x="348" y="275.2" width="13.4" height="13.4"/></clipPath>
<g clip-path="url(#hc348)"><rect x="348" y="275.2" width="13.4" height="13.4" fill="#fff"/><path d="M329.6,290.6L347,273.2M334.5,290.6L351.9,273.2M339.4,290.6L356.8,273.2M344.3,290.6L361.7,273.2M349.2,290.6L366.6,273.2M354.1,290.6L371.5,273.2M359,290.6L376.4,273.2M363.9,290.6L381.3,273.2M368.8,290.6L386.2,273.2" stroke="#222" stroke-width="0.95"/></g>
<rect x="348" y="275.2" width="13.4" height="13.4" fill="none" stroke="#222" stroke-width="0.8"/>
<text x="365.2" y="284.9" font-size="6.8" fill="#222">6-10 models</text>
<clipPath id="hc404"><rect x="404.4" y="275.2" width="13.4" height="13.4"/></clipPath>
<g clip-path="url(#hc404)"><rect x="404.4" y="275.2" width="13.4" height="13.4" fill="#fff"/><path d="M386,273.2L403.4,290.6M390.9,273.2L408.3,290.6M395.8,273.2L413.2,290.6M400.7,273.2L418.1,290.6M405.6,273.2L423,290.6M410.5,273.2L427.9,290.6M415.4,273.2L432.8,290.6M420.3,273.2L437.7,290.6M425.2,273.2L442.6,290.6" stroke="#222" stroke-width="0.95"/></g>
<rect x="404.4" y="275.2" width="13.4" height="13.4" fill="none" stroke="#222" stroke-width="0.8"/>
<text x="421.6" y="284.9" font-size="6.8" fill="#222">11-14 models</text>
</svg></body></html>
